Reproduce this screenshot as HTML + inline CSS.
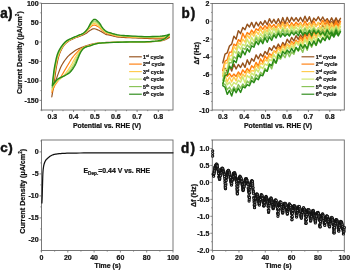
<!DOCTYPE html><html><head><meta charset="utf-8"><style>html,body{margin:0;padding:0;background:#fff;}svg{display:block;filter:blur(0.3px);} svg text{stroke:#111;stroke-width:0.22px;} svg text.pl{stroke-width:0.45px;}</style></head><body><svg width="350" height="270" viewBox="0 0 350 270" font-family='"Liberation Sans", sans-serif' fill="#111">
<rect width="350" height="270" fill="#fff"/>
<rect x="41.5" y="3.5" width="131.5" height="106.5" fill="none" stroke="#6a6a6a" stroke-width="0.9"/>
<line x1="52.40" y1="110.0" x2="52.40" y2="112.0" stroke="#6a6a6a" stroke-width="0.8"/>
<line x1="73.58" y1="110.0" x2="73.58" y2="112.0" stroke="#6a6a6a" stroke-width="0.8"/>
<line x1="94.76" y1="110.0" x2="94.76" y2="112.0" stroke="#6a6a6a" stroke-width="0.8"/>
<line x1="115.94" y1="110.0" x2="115.94" y2="112.0" stroke="#6a6a6a" stroke-width="0.8"/>
<line x1="137.12" y1="110.0" x2="137.12" y2="112.0" stroke="#6a6a6a" stroke-width="0.8"/>
<line x1="158.30" y1="110.0" x2="158.30" y2="112.0" stroke="#6a6a6a" stroke-width="0.8"/>
<line x1="41.81" y1="110.0" x2="41.81" y2="111.2" stroke="#6a6a6a" stroke-width="0.7"/>
<line x1="62.99" y1="110.0" x2="62.99" y2="111.2" stroke="#6a6a6a" stroke-width="0.7"/>
<line x1="84.17" y1="110.0" x2="84.17" y2="111.2" stroke="#6a6a6a" stroke-width="0.7"/>
<line x1="105.35" y1="110.0" x2="105.35" y2="111.2" stroke="#6a6a6a" stroke-width="0.7"/>
<line x1="126.53" y1="110.0" x2="126.53" y2="111.2" stroke="#6a6a6a" stroke-width="0.7"/>
<line x1="147.71" y1="110.0" x2="147.71" y2="111.2" stroke="#6a6a6a" stroke-width="0.7"/>
<line x1="168.89" y1="110.0" x2="168.89" y2="111.2" stroke="#6a6a6a" stroke-width="0.7"/>
<line x1="41.5" y1="3.10" x2="39.5" y2="3.10" stroke="#6a6a6a" stroke-width="0.8"/>
<line x1="41.5" y1="22.55" x2="39.5" y2="22.55" stroke="#6a6a6a" stroke-width="0.8"/>
<line x1="41.5" y1="42.00" x2="39.5" y2="42.00" stroke="#6a6a6a" stroke-width="0.8"/>
<line x1="41.5" y1="61.45" x2="39.5" y2="61.45" stroke="#6a6a6a" stroke-width="0.8"/>
<line x1="41.5" y1="80.90" x2="39.5" y2="80.90" stroke="#6a6a6a" stroke-width="0.8"/>
<line x1="41.5" y1="100.35" x2="39.5" y2="100.35" stroke="#6a6a6a" stroke-width="0.8"/>
<line x1="41.5" y1="12.82" x2="40.3" y2="12.82" stroke="#6a6a6a" stroke-width="0.7"/>
<line x1="41.5" y1="32.27" x2="40.3" y2="32.27" stroke="#6a6a6a" stroke-width="0.7"/>
<line x1="41.5" y1="51.73" x2="40.3" y2="51.73" stroke="#6a6a6a" stroke-width="0.7"/>
<line x1="41.5" y1="71.17" x2="40.3" y2="71.17" stroke="#6a6a6a" stroke-width="0.7"/>
<line x1="41.5" y1="90.62" x2="40.3" y2="90.62" stroke="#6a6a6a" stroke-width="0.7"/>
<line x1="41.5" y1="110.08" x2="40.3" y2="110.08" stroke="#6a6a6a" stroke-width="0.7"/>
<text x="52.4" y="118.8" font-size="7.0" text-anchor="middle" font-weight="bold" >0.3</text>
<text x="73.6" y="118.8" font-size="7.0" text-anchor="middle" font-weight="bold" >0.4</text>
<text x="94.8" y="118.8" font-size="7.0" text-anchor="middle" font-weight="bold" >0.5</text>
<text x="115.9" y="118.8" font-size="7.0" text-anchor="middle" font-weight="bold" >0.6</text>
<text x="137.1" y="118.8" font-size="7.0" text-anchor="middle" font-weight="bold" >0.7</text>
<text x="158.3" y="118.8" font-size="7.0" text-anchor="middle" font-weight="bold" >0.8</text>
<text x="38.6" y="5.6" font-size="7.0" text-anchor="end" font-weight="bold" >100</text>
<text x="38.6" y="25.1" font-size="7.0" text-anchor="end" font-weight="bold" >50</text>
<text x="38.6" y="44.5" font-size="7.0" text-anchor="end" font-weight="bold" >0</text>
<text x="38.6" y="64.0" font-size="7.0" text-anchor="end" font-weight="bold" >-50</text>
<text x="38.6" y="83.4" font-size="7.0" text-anchor="end" font-weight="bold" >-100</text>
<text x="38.6" y="102.8" font-size="7.0" text-anchor="end" font-weight="bold" >-150</text>
<text x="107" y="127.6" font-size="6.9" text-anchor="middle" font-weight="bold" >Potential vs. RHE (V)</text>
<text transform="translate(21.7,52.7) rotate(-90)" font-size="7.0" text-anchor="middle" font-weight="bold">Current Density (&#181;A/cm<tspan font-size="4.6" dy="-2.6">2</tspan><tspan dy="2.6">)</tspan></text>
<text class="pl" transform="translate(0.3,17.6) scale(1,1.03)" font-size="13.5" font-weight="bold">a<tspan dx="0.3">)</tspan></text>
<path d="M51.80,96.90 L51.96,95.94 L52.19,94.63 L52.46,93.08 L52.74,91.38 L53.03,89.65 L53.30,88.00 L53.55,86.42 L53.79,84.82 L54.03,83.19 L54.28,81.52 L54.53,79.80 L54.80,78.00 L55.07,76.10 L55.35,74.11 L55.63,72.06 L55.93,70.00 L56.25,67.97 L56.60,66.00 L56.97,64.08 L57.36,62.17 L57.76,60.28 L58.20,58.44 L58.68,56.68 L59.20,55.00 L59.77,53.40 L60.38,51.86 L61.03,50.39 L61.72,49.00 L62.44,47.70 L63.20,46.50 L63.99,45.41 L64.83,44.42 L65.69,43.52 L66.60,42.69 L67.53,41.92 L68.50,41.20 L69.52,40.53 L70.60,39.94 L71.71,39.41 L72.83,38.91 L73.93,38.45 L75.00,38.00 L76.04,37.58 L77.07,37.20 L78.09,36.85 L79.09,36.51 L80.06,36.17 L81.00,35.80 L81.91,35.41 L82.80,35.02 L83.66,34.62 L84.48,34.22 L85.27,33.81 L86.00,33.40 L86.66,32.97 L87.25,32.53 L87.79,32.08 L88.33,31.64 L88.89,31.21 L89.50,30.80 L90.16,30.38 L90.85,29.93 L91.56,29.49 L92.29,29.11 L93.04,28.83 L93.80,28.70 L94.60,28.75 L95.44,28.95 L96.30,29.25 L97.15,29.61 L97.96,29.97 L98.70,30.30 L99.36,30.60 L99.96,30.90 L100.52,31.21 L101.06,31.53 L101.62,31.86 L102.20,32.20 L102.82,32.57 L103.45,32.97 L104.09,33.38 L104.74,33.77 L105.37,34.12 L106.00,34.40 L106.55,34.59 L107.02,34.70 L107.48,34.76 L108.01,34.83 L108.70,34.93 L109.60,35.10 L110.75,35.37 L112.08,35.72 L113.56,36.10 L115.14,36.48 L116.80,36.83 L118.50,37.10 L120.20,37.29 L121.93,37.43 L123.73,37.53 L125.65,37.61 L127.72,37.70 L130.00,37.80 L132.56,37.92 L135.40,38.04 L138.39,38.17 L141.43,38.29 L144.41,38.40 L147.20,38.50 L149.89,38.60 L152.59,38.72 L155.21,38.83 L157.70,38.91 L159.99,38.94 L162.00,38.90 L163.75,38.75 L165.29,38.51 L166.62,38.22 L167.76,37.93 L168.68,37.67 L169.40,37.50 L168.68,37.87 L167.76,38.40 L166.62,39.02 L165.29,39.66 L163.75,40.25 L162.00,40.70 L159.99,41.02 L157.70,41.27 L155.21,41.46 L152.59,41.62 L149.89,41.76 L147.20,41.90 L144.54,42.04 L141.87,42.17 L139.13,42.28 L136.27,42.37 L133.25,42.45 L130.00,42.50 L126.31,42.51 L122.19,42.49 L117.89,42.44 L113.69,42.39 L109.87,42.37 L106.70,42.40 L104.25,42.47 L102.33,42.58 L100.78,42.71 L99.45,42.86 L98.21,43.02 L96.90,43.20 L95.58,43.39 L94.39,43.59 L93.28,43.80 L92.20,44.04 L91.12,44.30 L90.00,44.60 L88.83,44.94 L87.66,45.31 L86.47,45.71 L85.30,46.13 L84.14,46.57 L83.00,47.00 L81.90,47.41 L80.84,47.79 L79.79,48.19 L78.74,48.63 L77.65,49.16 L76.50,49.80 L75.26,50.58 L73.94,51.47 L72.59,52.44 L71.25,53.47 L69.97,54.53 L68.80,55.60 L67.73,56.70 L66.73,57.85 L65.79,59.03 L64.90,60.23 L64.08,61.43 L63.30,62.60 L62.61,63.70 L62.01,64.74 L61.46,65.77 L60.94,66.86 L60.39,68.08 L59.80,69.50 L59.14,71.18 L58.43,73.09 L57.70,75.12 L56.99,77.18 L56.31,79.17 L55.70,81.00 L55.15,82.67 L54.64,84.26 L54.17,85.79 L53.74,87.25 L53.35,88.65 L53.00,90.00 L52.70,91.35 L52.44,92.71 L52.23,94.01 L52.06,95.19 L51.91,96.17 L51.80,96.90" fill="none" stroke="#96521C" stroke-width="1.15" stroke-linejoin="round" stroke-linecap="round" />
<path d="M51.99,92.53 L52.14,91.44 L52.35,89.93 L52.59,88.15 L52.86,86.23 L53.12,84.31 L53.38,82.54 L53.62,80.91 L53.85,79.31 L54.09,77.72 L54.33,76.11 L54.60,74.45 L54.88,72.73 L55.17,70.92 L55.48,69.02 L55.80,67.07 L56.14,65.13 L56.51,63.24 L56.91,61.44 L57.34,59.71 L57.80,58.03 L58.28,56.39 L58.80,54.81 L59.35,53.29 L59.94,51.84 L60.58,50.45 L61.26,49.11 L61.97,47.83 L62.72,46.63 L63.49,45.50 L64.29,44.47 L65.12,43.55 L65.97,42.73 L66.85,42.00 L67.76,41.32 L68.70,40.69 L69.67,40.07 L70.68,39.48 L71.75,38.94 L72.84,38.45 L73.94,37.97 L75.03,37.52 L76.09,37.06 L77.14,36.63 L78.20,36.23 L79.24,35.85 L80.26,35.46 L81.24,35.05 L82.17,34.59 L83.04,34.09 L83.87,33.56 L84.66,33.01 L85.42,32.44 L86.13,31.85 L86.82,31.25 L87.45,30.63 L88.02,29.96 L88.56,29.27 L89.08,28.60 L89.62,27.97 L90.20,27.41 L90.82,26.87 L91.44,26.34 L92.08,25.85 L92.74,25.44 L93.41,25.16 L94.11,25.03 L94.85,25.11 L95.62,25.34 L96.42,25.71 L97.21,26.15 L97.98,26.63 L98.70,27.10 L99.37,27.60 L100.00,28.17 L100.61,28.78 L101.20,29.39 L101.79,29.99 L102.40,30.52 L103.00,31.02 L103.60,31.51 L104.20,31.97 L104.80,32.40 L105.40,32.78 L106.00,33.11 L106.54,33.36 L107.00,33.53 L107.47,33.65 L108.01,33.76 L108.69,33.91 L109.60,34.12 L110.75,34.43 L112.08,34.80 L113.56,35.20 L115.14,35.59 L116.80,35.95 L118.50,36.24 L120.20,36.45 L121.93,36.61 L123.73,36.74 L125.65,36.84 L127.72,36.94 L130.00,37.06 L132.56,37.19 L135.40,37.33 L138.39,37.46 L141.43,37.58 L144.41,37.68 L147.20,37.76 L149.89,37.82 L152.59,37.87 L155.21,37.90 L157.70,37.90 L159.99,37.86 L162.00,37.77 L163.75,37.59 L165.29,37.32 L166.62,37.01 L167.76,36.70 L168.68,36.43 L169.40,36.25 L168.68,36.56 L167.76,37.29 L166.62,38.13 L165.29,39.00 L163.75,39.78 L162.00,40.39 L159.99,40.80 L157.70,41.11 L155.21,41.34 L152.59,41.52 L149.89,41.66 L147.20,41.81 L144.54,41.94 L141.87,42.03 L139.13,42.09 L136.27,42.14 L133.25,42.18 L130.00,42.23 L126.31,42.28 L122.19,42.32 L117.89,42.36 L113.69,42.40 L109.87,42.45 L106.70,42.54 L104.25,42.63 L102.33,42.74 L100.78,42.86 L99.46,43.01 L98.21,43.18 L96.90,43.38 L95.56,43.62 L94.34,43.90 L93.19,44.20 L92.09,44.52 L91.00,44.85 L89.91,45.19 L88.80,45.51 L87.71,45.83 L86.64,46.16 L85.59,46.52 L84.57,46.91 L83.59,47.36 L82.65,47.85 L81.77,48.36 L80.91,48.92 L80.07,49.53 L79.22,50.21 L78.34,50.97 L77.43,51.84 L76.49,52.80 L75.54,53.83 L74.60,54.91 L73.70,56.00 L72.85,57.09 L72.06,58.18 L71.32,59.30 L70.61,60.43 L69.93,61.58 L69.25,62.73 L68.56,63.86 L67.89,64.97 L67.24,66.06 L66.60,67.14 L65.95,68.25 L65.28,69.39 L64.57,70.58 L63.82,71.85 L63.04,73.20 L62.23,74.58 L61.42,75.96 L60.60,77.30 L59.80,78.57 L58.97,79.75 L58.12,80.87 L57.27,81.96 L56.45,83.03 L55.68,84.09 L54.98,85.19 L54.35,86.37 L53.75,87.65 L53.20,88.94 L52.72,90.13 L52.32,91.13 L52.03,91.86" fill="none" stroke="#FF7F0E" stroke-width="1.15" stroke-linejoin="round" stroke-linecap="round" />
<path d="M52.08,90.63 L52.22,89.48 L52.42,87.89 L52.65,86.00 L52.91,83.98 L53.16,81.98 L53.41,80.16 L53.64,78.51 L53.88,76.91 L54.11,75.33 L54.36,73.75 L54.62,72.12 L54.91,70.44 L55.22,68.66 L55.54,66.80 L55.87,64.90 L56.23,63.01 L56.62,61.18 L57.05,59.45 L57.51,57.81 L57.99,56.23 L58.51,54.70 L59.06,53.23 L59.64,51.82 L60.26,50.46 L60.93,49.16 L61.64,47.91 L62.38,46.72 L63.15,45.59 L63.95,44.54 L64.77,43.59 L65.61,42.74 L66.47,42.00 L67.36,41.33 L68.27,40.73 L69.21,40.15 L70.18,39.58 L71.19,39.02 L72.25,38.51 L73.33,38.03 L74.42,37.56 L75.51,37.11 L76.57,36.66 L77.62,36.22 L78.69,35.81 L79.74,35.41 L80.77,35.00 L81.76,34.56 L82.68,34.06 L83.54,33.51 L84.34,32.93 L85.10,32.30 L85.82,31.66 L86.51,30.99 L87.18,30.32 L87.79,29.60 L88.36,28.83 L88.89,28.05 L89.41,27.28 L89.94,26.56 L90.51,25.93 L91.10,25.35 L91.70,24.78 L92.31,24.27 L92.93,23.84 L93.58,23.55 L94.25,23.44 L94.96,23.52 L95.70,23.77 L96.47,24.16 L97.24,24.64 L97.99,25.17 L98.70,25.71 L99.37,26.30 L100.02,26.98 L100.65,27.72 L101.26,28.46 L101.87,29.17 L102.48,29.79 L103.08,30.35 L103.67,30.87 L104.25,31.36 L104.83,31.80 L105.41,32.20 L106.00,32.55 L106.53,32.82 L107.00,33.02 L107.46,33.16 L108.00,33.30 L108.69,33.47 L109.60,33.70 L110.75,34.02 L112.08,34.40 L113.56,34.80 L115.14,35.20 L116.80,35.57 L118.50,35.87 L120.20,36.09 L121.93,36.26 L123.73,36.39 L125.65,36.51 L127.72,36.62 L130.00,36.74 L132.56,36.87 L135.40,37.01 L138.39,37.15 L141.43,37.27 L144.41,37.37 L147.20,37.44 L149.89,37.48 L152.59,37.50 L155.21,37.50 L157.70,37.47 L159.99,37.39 L162.00,37.28 L163.75,37.08 L165.29,36.80 L166.62,36.48 L167.76,36.17 L168.68,35.89 L169.40,35.71 L168.68,35.84 L167.76,36.67 L166.62,37.64 L165.29,38.63 L163.75,39.52 L162.00,40.21 L159.99,40.68 L157.70,41.02 L155.21,41.27 L152.59,41.46 L149.89,41.61 L147.20,41.76 L144.54,41.88 L141.87,41.95 L139.13,41.98 L136.27,42.00 L133.25,42.03 L130.00,42.08 L126.31,42.15 L122.19,42.23 L117.89,42.31 L113.69,42.40 L109.87,42.50 L106.70,42.61 L104.25,42.72 L102.33,42.83 L100.78,42.95 L99.46,43.09 L98.22,43.26 L96.90,43.48 L95.55,43.75 L94.31,44.07 L93.14,44.42 L92.02,44.79 L90.94,45.16 L89.86,45.51 L88.79,45.83 L87.74,46.12 L86.73,46.41 L85.75,46.73 L84.81,47.10 L83.91,47.56 L83.07,48.09 L82.28,48.68 L81.53,49.33 L80.81,50.03 L80.09,50.79 L79.37,51.62 L78.64,52.54 L77.90,53.54 L77.18,54.60 L76.46,55.70 L75.77,56.82 L75.10,57.91 L74.47,59.00 L73.87,60.10 L73.29,61.21 L72.72,62.33 L72.12,63.45 L71.49,64.56 L70.83,65.67 L70.15,66.79 L69.45,67.91 L68.73,69.02 L67.99,70.11 L67.22,71.18 L66.42,72.23 L65.60,73.26 L64.75,74.28 L63.88,75.28 L62.99,76.26 L62.07,77.22 L61.10,78.13 L60.06,78.99 L59.00,79.83 L57.96,80.68 L56.97,81.56 L56.08,82.51 L55.26,83.60 L54.47,84.84 L53.74,86.12 L53.09,87.32 L52.55,88.33 L52.15,89.06" fill="none" stroke="#FFCC50" stroke-width="1.15" stroke-linejoin="round" stroke-linecap="round" />
<path d="M52.15,89.06 L52.29,87.86 L52.48,86.20 L52.70,84.23 L52.95,82.13 L53.20,80.07 L53.44,78.20 L53.67,76.53 L53.90,74.93 L54.13,73.37 L54.38,71.80 L54.65,70.21 L54.94,68.55 L55.26,66.80 L55.58,64.97 L55.93,63.11 L56.31,61.26 L56.72,59.48 L57.16,57.81 L57.64,56.24 L58.15,54.74 L58.69,53.30 L59.27,51.92 L59.88,50.60 L60.53,49.33 L61.22,48.10 L61.95,46.92 L62.72,45.80 L63.51,44.74 L64.33,43.75 L65.16,42.86 L66.01,42.07 L66.88,41.39 L67.77,40.79 L68.69,40.23 L69.63,39.70 L70.60,39.17 L71.61,38.64 L72.66,38.15 L73.74,37.68 L74.82,37.23 L75.90,36.78 L76.96,36.32 L78.02,35.88 L79.09,35.46 L80.15,35.05 L81.19,34.62 L82.18,34.16 L83.10,33.63 L83.94,33.04 L84.73,32.40 L85.46,31.72 L86.16,31.02 L86.82,30.29 L87.47,29.55 L88.08,28.76 L88.64,27.91 L89.16,27.04 L89.68,26.18 L90.21,25.40 L90.76,24.71 L91.33,24.09 L91.91,23.49 L92.49,22.96 L93.09,22.53 L93.71,22.23 L94.36,22.12 L95.05,22.21 L95.77,22.48 L96.51,22.89 L97.26,23.40 L98.00,23.97 L98.70,24.56 L99.37,25.22 L100.03,26.01 L100.68,26.85 L101.31,27.69 L101.94,28.49 L102.55,29.19 L103.15,29.79 L103.72,30.35 L104.29,30.85 L104.85,31.31 L105.42,31.72 L106.00,32.09 L106.53,32.38 L106.99,32.60 L107.46,32.76 L108.00,32.92 L108.69,33.10 L109.60,33.35 L110.75,33.68 L112.08,34.06 L113.56,34.48 L115.14,34.88 L116.80,35.26 L118.50,35.56 L120.20,35.79 L121.93,35.97 L123.73,36.11 L125.65,36.23 L127.72,36.35 L130.00,36.47 L132.56,36.61 L135.40,36.76 L138.39,36.90 L141.43,37.02 L144.41,37.11 L147.20,37.17 L149.89,37.19 L152.59,37.19 L155.21,37.16 L157.70,37.10 L159.99,37.01 L162.00,36.87 L163.75,36.66 L165.29,36.37 L166.62,36.05 L167.76,35.73 L168.68,35.45 L169.40,35.26 L168.68,35.49 L167.76,36.37 L166.62,37.40 L165.29,38.45 L163.75,39.40 L162.00,40.13 L159.99,40.62 L157.70,40.98 L155.21,41.24 L152.59,41.43 L149.89,41.59 L147.20,41.74 L144.54,41.85 L141.87,41.91 L139.13,41.93 L136.27,41.94 L133.25,41.96 L130.00,42.01 L126.31,42.09 L122.19,42.18 L117.89,42.29 L113.69,42.40 L109.87,42.52 L106.70,42.65 L104.25,42.76 L102.33,42.88 L100.79,42.99 L99.46,43.13 L98.22,43.31 L96.90,43.53 L95.55,43.81 L94.29,44.15 L93.12,44.53 L91.99,44.92 L90.91,45.30 L89.84,45.67 L88.78,45.98 L87.76,46.26 L86.77,46.53 L85.83,46.83 L84.92,47.19 L84.07,47.66 L83.27,48.21 L82.53,48.83 L81.83,49.52 L81.17,50.27 L80.51,51.07 L79.86,51.93 L79.21,52.87 L78.58,53.89 L77.96,54.97 L77.36,56.09 L76.76,57.21 L76.18,58.31 L75.62,59.39 L75.10,60.49 L74.58,61.59 L74.06,62.69 L73.50,63.80 L72.89,64.90 L72.24,66.01 L71.54,67.14 L70.82,68.27 L70.07,69.39 L69.29,70.46 L68.49,71.47 L67.67,72.41 L66.83,73.29 L65.96,74.14 L65.06,74.96 L64.13,75.76 L63.16,76.57 L62.12,77.35 L60.99,78.09 L59.83,78.81 L58.68,79.56 L57.59,80.35 L56.61,81.23 L55.70,82.28 L54.82,83.49 L54.00,84.76 L53.27,85.97 L52.66,86.99 L52.21,87.72" fill="none" stroke="#CFE872" stroke-width="1.15" stroke-linejoin="round" stroke-linecap="round" />
<path d="M52.22,87.60 L52.35,86.36 L52.53,84.63 L52.75,82.59 L52.98,80.42 L53.23,78.29 L53.47,76.38 L53.69,74.70 L53.92,73.10 L54.15,71.54 L54.40,70.00 L54.67,68.43 L54.97,66.80 L55.29,65.07 L55.63,63.27 L55.99,61.44 L56.38,59.64 L56.80,57.91 L57.26,56.29 L57.76,54.79 L58.30,53.36 L58.87,52.01 L59.47,50.71 L60.11,49.47 L60.78,48.28 L61.49,47.12 L62.24,46.00 L63.03,44.94 L63.84,43.94 L64.68,43.02 L65.52,42.18 L66.38,41.46 L67.26,40.83 L68.16,40.28 L69.08,39.78 L70.02,39.29 L70.99,38.79 L72.00,38.29 L73.04,37.82 L74.11,37.36 L75.19,36.91 L76.27,36.46 L77.32,36.01 L78.38,35.56 L79.46,35.14 L80.54,34.72 L81.58,34.27 L82.57,33.78 L83.49,33.23 L84.32,32.60 L85.09,31.91 L85.80,31.19 L86.47,30.42 L87.11,29.64 L87.74,28.83 L88.34,27.98 L88.89,27.05 L89.42,26.10 L89.93,25.17 L90.45,24.32 L90.99,23.58 L91.55,22.92 L92.11,22.30 L92.67,21.75 L93.24,21.31 L93.84,21.01 L94.46,20.90 L95.13,21.00 L95.83,21.28 L96.55,21.71 L97.28,22.25 L98.00,22.85 L98.70,23.49 L99.38,24.23 L100.05,25.10 L100.71,26.04 L101.36,26.98 L102.00,27.87 L102.62,28.63 L103.21,29.28 L103.77,29.86 L104.33,30.38 L104.88,30.85 L105.43,31.28 L106.00,31.66 L106.53,31.97 L106.99,32.21 L107.46,32.39 L108.00,32.57 L108.69,32.77 L109.60,33.02 L110.75,33.36 L112.08,33.76 L113.56,34.18 L115.14,34.59 L116.80,34.96 L118.50,35.27 L120.20,35.51 L121.93,35.70 L123.73,35.85 L125.65,35.97 L127.72,36.09 L130.00,36.22 L132.56,36.37 L135.40,36.52 L138.39,36.66 L141.43,36.78 L144.41,36.87 L147.20,36.92 L149.89,36.93 L152.59,36.91 L155.21,36.85 L157.70,36.77 L159.99,36.65 L162.00,36.49 L163.75,36.27 L165.29,35.97 L166.62,35.64 L167.76,35.32 L168.68,35.04 L169.40,34.84 L168.68,35.20 L167.76,36.12 L166.62,37.20 L165.29,38.30 L163.75,39.30 L162.00,40.06 L159.99,40.57 L157.70,40.95 L155.21,41.22 L152.59,41.41 L149.89,41.57 L147.20,41.72 L144.54,41.83 L141.87,41.88 L139.13,41.89 L136.27,41.89 L133.25,41.90 L130.00,41.95 L126.31,42.04 L122.19,42.15 L117.89,42.27 L113.69,42.40 L109.87,42.54 L106.70,42.68 L104.25,42.80 L102.33,42.91 L100.79,43.03 L99.47,43.17 L98.22,43.34 L96.90,43.57 L95.55,43.87 L94.28,44.22 L93.10,44.62 L91.97,45.03 L90.88,45.43 L89.82,45.80 L88.77,46.11 L87.77,46.37 L86.81,46.63 L85.89,46.91 L85.02,47.27 L84.20,47.74 L83.44,48.31 L82.74,48.96 L82.08,49.68 L81.46,50.47 L80.86,51.31 L80.27,52.19 L79.70,53.15 L79.15,54.19 L78.62,55.28 L78.10,56.41 L77.59,57.53 L77.08,58.64 L76.58,59.72 L76.12,60.81 L75.65,61.90 L75.17,62.99 L74.65,64.09 L74.06,65.18 L73.41,66.29 L72.71,67.44 L71.96,68.58 L71.18,69.69 L70.38,70.75 L69.55,71.71 L68.71,72.56 L67.85,73.32 L66.97,74.02 L66.05,74.69 L65.09,75.35 L64.07,76.03 L62.96,76.70 L61.76,77.34 L60.52,77.96 L59.28,78.62 L58.11,79.34 L57.05,80.16 L56.07,81.17 L55.11,82.37 L54.21,83.63 L53.42,84.84 L52.76,85.87 L52.26,86.60" fill="none" stroke="#8AC458" stroke-width="1.15" stroke-linejoin="round" stroke-linecap="round" />
<path d="M52.30,85.70 L52.43,84.40 L52.60,82.59 L52.81,80.44 L53.03,78.17 L53.27,75.96 L53.50,74.00 L53.72,72.30 L53.94,70.70 L54.17,69.16 L54.42,67.64 L54.69,66.10 L55.00,64.50 L55.33,62.81 L55.69,61.05 L56.06,59.27 L56.47,57.52 L56.91,55.85 L57.40,54.30 L57.93,52.88 L58.49,51.56 L59.09,50.31 L59.73,49.13 L60.40,48.00 L61.10,46.90 L61.84,45.83 L62.62,44.80 L63.44,43.82 L64.28,42.91 L65.13,42.06 L66.00,41.30 L66.87,40.65 L67.76,40.10 L68.66,39.62 L69.59,39.18 L70.53,38.75 L71.50,38.30 L72.50,37.83 L73.54,37.39 L74.61,36.94 L75.68,36.50 L76.75,36.06 L77.80,35.60 L78.86,35.15 L79.95,34.72 L81.04,34.28 L82.09,33.81 L83.09,33.30 L84.00,32.70 L84.82,32.02 L85.56,31.28 L86.24,30.48 L86.88,29.64 L87.49,28.78 L88.10,27.90 L88.68,26.96 L89.23,25.93 L89.75,24.88 L90.26,23.85 L90.77,22.90 L91.30,22.10 L91.83,21.39 L92.36,20.74 L92.89,20.16 L93.44,19.71 L94.00,19.41 L94.60,19.30 L95.24,19.41 L95.91,19.71 L96.61,20.16 L97.31,20.74 L98.01,21.39 L98.70,22.10 L99.38,22.92 L100.07,23.91 L100.75,24.98 L101.42,26.05 L102.08,27.05 L102.70,27.90 L103.29,28.60 L103.84,29.22 L104.38,29.77 L104.90,30.26 L105.44,30.70 L106.00,31.10 L106.52,31.44 L106.98,31.70 L107.45,31.91 L108.00,32.10 L108.69,32.32 L109.60,32.60 L110.75,32.95 L112.08,33.36 L113.56,33.78 L115.14,34.20 L116.80,34.58 L118.50,34.90 L120.20,35.15 L121.93,35.34 L123.73,35.50 L125.65,35.64 L127.72,35.77 L130.00,35.90 L132.56,36.05 L135.40,36.20 L138.39,36.35 L141.43,36.47 L144.41,36.56 L147.20,36.60 L149.89,36.59 L152.59,36.54 L155.21,36.45 L157.70,36.33 L159.99,36.18 L162.00,36.00 L163.75,35.76 L165.29,35.45 L166.62,35.11 L167.76,34.78 L168.68,34.50 L169.40,34.30 L168.68,34.97 L167.76,35.93 L166.62,37.04 L165.29,38.19 L163.75,39.22 L162.00,40.00 L159.99,40.53 L157.70,40.92 L155.21,41.19 L152.59,41.39 L149.89,41.55 L147.20,41.70 L144.54,41.81 L141.87,41.86 L139.13,41.86 L136.27,41.84 L133.25,41.85 L130.00,41.90 L126.31,42.00 L122.19,42.12 L117.89,42.26 L113.69,42.40 L109.87,42.55 L106.70,42.70 L104.25,42.83 L102.33,42.94 L100.79,43.06 L99.47,43.19 L98.22,43.37 L96.90,43.60 L95.54,43.91 L94.27,44.28 L93.08,44.69 L91.95,45.11 L90.86,45.52 L89.80,45.90 L88.77,46.21 L87.78,46.46 L86.84,46.71 L85.94,46.98 L85.09,47.33 L84.30,47.80 L83.57,48.39 L82.90,49.06 L82.28,49.81 L81.70,50.63 L81.14,51.49 L80.60,52.40 L80.08,53.37 L79.60,54.43 L79.14,55.53 L78.70,56.66 L78.26,57.79 L77.80,58.90 L77.35,59.98 L76.93,61.07 L76.51,62.15 L76.07,63.23 L75.57,64.32 L75.00,65.40 L74.35,66.52 L73.64,67.67 L72.88,68.83 L72.07,69.94 L71.25,70.98 L70.40,71.90 L69.55,72.68 L68.67,73.34 L67.78,73.92 L66.84,74.47 L65.85,75.02 L64.80,75.60 L63.64,76.19 L62.38,76.73 L61.07,77.28 L59.76,77.87 L58.52,78.53 L57.40,79.30 L56.36,80.28 L55.34,81.47 L54.39,82.73 L53.54,83.94 L52.83,84.97 L52.30,85.70" fill="none" stroke="#2A8A16" stroke-width="1.35" stroke-linejoin="round" stroke-linecap="round" />
<line x1="129.1" y1="56.8" x2="141.8" y2="56.8" stroke="#96521C" stroke-width="1.15"/>
<text x="143.1" y="58.70" font-size="5.3" font-weight="bold">1<tspan font-size="3.29" dy="-2">st</tspan><tspan dy="2"> cycle</tspan></text>
<line x1="129.1" y1="64.1" x2="141.8" y2="64.1" stroke="#FF7F0E" stroke-width="1.15"/>
<text x="143.1" y="66.00" font-size="5.3" font-weight="bold">2<tspan font-size="3.29" dy="-2">nd</tspan><tspan dy="2"> cycle</tspan></text>
<line x1="129.1" y1="71.6" x2="141.8" y2="71.6" stroke="#FFCC50" stroke-width="1.15"/>
<text x="143.1" y="73.50" font-size="5.3" font-weight="bold">3<tspan font-size="3.29" dy="-2">rd</tspan><tspan dy="2"> cycle</tspan></text>
<line x1="129.1" y1="79.1" x2="141.8" y2="79.1" stroke="#CFE872" stroke-width="1.15"/>
<text x="143.1" y="81.00" font-size="5.3" font-weight="bold">4<tspan font-size="3.29" dy="-2">th</tspan><tspan dy="2"> cycle</tspan></text>
<line x1="129.1" y1="86.6" x2="141.8" y2="86.6" stroke="#8AC458" stroke-width="1.15"/>
<text x="143.1" y="88.50" font-size="5.3" font-weight="bold">5<tspan font-size="3.29" dy="-2">th</tspan><tspan dy="2"> cycle</tspan></text>
<line x1="129.1" y1="94.2" x2="141.8" y2="94.2" stroke="#2A8A16" stroke-width="1.15"/>
<text x="143.1" y="96.10" font-size="5.3" font-weight="bold">6<tspan font-size="3.29" dy="-2">th</tspan><tspan dy="2"> cycle</tspan></text>
<rect x="212.2" y="3.5" width="132.10000000000002" height="106.5" fill="none" stroke="#6a6a6a" stroke-width="0.9"/>
<line x1="222.80" y1="110.0" x2="222.80" y2="112.0" stroke="#6a6a6a" stroke-width="0.8"/>
<line x1="244.20" y1="110.0" x2="244.20" y2="112.0" stroke="#6a6a6a" stroke-width="0.8"/>
<line x1="265.60" y1="110.0" x2="265.60" y2="112.0" stroke="#6a6a6a" stroke-width="0.8"/>
<line x1="287.00" y1="110.0" x2="287.00" y2="112.0" stroke="#6a6a6a" stroke-width="0.8"/>
<line x1="308.40" y1="110.0" x2="308.40" y2="112.0" stroke="#6a6a6a" stroke-width="0.8"/>
<line x1="329.80" y1="110.0" x2="329.80" y2="112.0" stroke="#6a6a6a" stroke-width="0.8"/>
<line x1="212.10" y1="110.0" x2="212.10" y2="111.2" stroke="#6a6a6a" stroke-width="0.7"/>
<line x1="233.50" y1="110.0" x2="233.50" y2="111.2" stroke="#6a6a6a" stroke-width="0.7"/>
<line x1="254.90" y1="110.0" x2="254.90" y2="111.2" stroke="#6a6a6a" stroke-width="0.7"/>
<line x1="276.30" y1="110.0" x2="276.30" y2="111.2" stroke="#6a6a6a" stroke-width="0.7"/>
<line x1="297.70" y1="110.0" x2="297.70" y2="111.2" stroke="#6a6a6a" stroke-width="0.7"/>
<line x1="319.10" y1="110.0" x2="319.10" y2="111.2" stroke="#6a6a6a" stroke-width="0.7"/>
<line x1="340.50" y1="110.0" x2="340.50" y2="111.2" stroke="#6a6a6a" stroke-width="0.7"/>
<line x1="212.2" y1="3.50" x2="210.2" y2="3.50" stroke="#6a6a6a" stroke-width="0.8"/>
<line x1="212.2" y1="21.30" x2="210.2" y2="21.30" stroke="#6a6a6a" stroke-width="0.8"/>
<line x1="212.2" y1="39.10" x2="210.2" y2="39.10" stroke="#6a6a6a" stroke-width="0.8"/>
<line x1="212.2" y1="56.90" x2="210.2" y2="56.90" stroke="#6a6a6a" stroke-width="0.8"/>
<line x1="212.2" y1="74.70" x2="210.2" y2="74.70" stroke="#6a6a6a" stroke-width="0.8"/>
<line x1="212.2" y1="92.50" x2="210.2" y2="92.50" stroke="#6a6a6a" stroke-width="0.8"/>
<line x1="212.2" y1="110.30" x2="210.2" y2="110.30" stroke="#6a6a6a" stroke-width="0.8"/>
<line x1="212.2" y1="12.40" x2="211.0" y2="12.40" stroke="#6a6a6a" stroke-width="0.7"/>
<line x1="212.2" y1="30.20" x2="211.0" y2="30.20" stroke="#6a6a6a" stroke-width="0.7"/>
<line x1="212.2" y1="48.00" x2="211.0" y2="48.00" stroke="#6a6a6a" stroke-width="0.7"/>
<line x1="212.2" y1="65.80" x2="211.0" y2="65.80" stroke="#6a6a6a" stroke-width="0.7"/>
<line x1="212.2" y1="83.60" x2="211.0" y2="83.60" stroke="#6a6a6a" stroke-width="0.7"/>
<line x1="212.2" y1="101.40" x2="211.0" y2="101.40" stroke="#6a6a6a" stroke-width="0.7"/>
<text x="222.8" y="118.8" font-size="7.0" text-anchor="middle" font-weight="bold" >0.3</text>
<text x="244.2" y="118.8" font-size="7.0" text-anchor="middle" font-weight="bold" >0.4</text>
<text x="265.6" y="118.8" font-size="7.0" text-anchor="middle" font-weight="bold" >0.5</text>
<text x="287.0" y="118.8" font-size="7.0" text-anchor="middle" font-weight="bold" >0.6</text>
<text x="308.4" y="118.8" font-size="7.0" text-anchor="middle" font-weight="bold" >0.7</text>
<text x="329.8" y="118.8" font-size="7.0" text-anchor="middle" font-weight="bold" >0.8</text>
<text x="209.3" y="6.0" font-size="7.0" text-anchor="end" font-weight="bold" >2</text>
<text x="209.3" y="23.8" font-size="7.0" text-anchor="end" font-weight="bold" >0</text>
<text x="209.3" y="41.6" font-size="7.0" text-anchor="end" font-weight="bold" >-2</text>
<text x="209.3" y="59.4" font-size="7.0" text-anchor="end" font-weight="bold" >-4</text>
<text x="209.3" y="77.2" font-size="7.0" text-anchor="end" font-weight="bold" >-6</text>
<text x="209.3" y="95.0" font-size="7.0" text-anchor="end" font-weight="bold" >-8</text>
<text x="209.3" y="112.8" font-size="7.0" text-anchor="end" font-weight="bold" >-10</text>
<text x="278" y="127.6" font-size="6.9" text-anchor="middle" font-weight="bold" >Potential vs. RHE (V)</text>
<text transform="translate(199.0,53.2) rotate(-90)" font-size="7.0" text-anchor="middle" font-weight="bold">&#916;<tspan font-style="italic">f</tspan> (Hz)</text>
<text class="pl" transform="translate(181.6,18.4) scale(1,1.03)" font-size="13.5" font-weight="bold">b<tspan dx="0.9">)</tspan></text>
<path d="M222.80,62.90 L225.02,54.14 L227.24,52.76 L229.46,45.98 L231.68,44.11 L233.90,36.15 L236.12,39.14 L238.35,30.62 L240.57,33.62 L242.79,27.47 L245.01,29.77 L247.23,24.15 L249.45,27.01 L251.67,22.40 L253.89,27.81 L256.11,22.18 L258.33,25.89 L260.55,21.74 L262.77,25.13 L264.99,20.59 L267.22,24.75 L269.44,18.67 L271.66,23.10 L273.88,19.37 L276.10,23.63 L278.32,18.77 L280.54,24.08 L282.76,17.62 L284.98,23.80 L287.20,17.32 L289.42,22.36 L291.64,17.34 L293.86,21.08 L296.08,17.64 L298.31,21.37 L300.53,17.48 L302.75,21.65 L304.97,16.17 L307.19,21.35 L309.41,16.76 L311.63,23.07 L313.85,18.10 L316.07,20.77 L318.29,16.79 L320.51,20.98 L322.73,16.98 L324.95,21.25 L327.18,18.67 L329.40,22.63 L331.62,17.87 L333.84,22.39 L336.06,17.83 L338.28,23.01 L340.50,18.30 L338.28,21.79 L336.06,18.43 L333.84,24.17 L331.62,21.79 L329.40,25.74 L327.18,22.71 L324.95,28.96 L322.73,24.99 L320.51,31.49 L318.29,28.10 L316.07,33.56 L313.85,29.84 L311.63,34.38 L309.41,31.20 L307.19,35.99 L304.97,33.27 L302.75,38.14 L300.53,35.03 L298.31,39.27 L296.08,35.74 L293.86,40.95 L291.64,37.48 L289.42,42.79 L287.20,39.24 L284.98,45.57 L282.76,42.53 L280.54,47.91 L278.32,44.07 L276.10,48.84 L273.88,45.80 L271.66,50.37 L269.44,47.76 L267.22,54.22 L264.99,51.49 L262.77,56.81 L260.55,53.86 L258.33,58.81 L256.11,54.91 L253.89,61.16 L251.67,58.63 L249.45,64.61 L247.23,59.87 L245.01,67.37 L242.79,63.02 L240.57,67.52 L238.35,64.55 L236.12,69.01 L233.90,64.11 L231.68,71.09 L229.46,65.71 L227.24,71.70 L225.02,68.30 L222.80,70.46" fill="none" stroke="#96521C" stroke-width="1.45" stroke-linejoin="round" stroke-linecap="round" />
<path d="M222.80,70.23 L225.02,61.23 L227.24,59.91 L229.46,52.16 L231.68,52.06 L233.90,44.13 L236.12,45.79 L238.35,39.63 L240.57,41.61 L242.79,33.30 L245.01,37.98 L247.23,32.57 L249.45,34.49 L251.67,30.07 L253.89,33.28 L256.11,28.81 L258.33,30.27 L260.55,26.15 L262.77,29.35 L264.99,25.64 L267.22,28.79 L269.44,23.86 L271.66,27.15 L273.88,24.52 L276.10,27.86 L278.32,23.73 L280.54,27.00 L282.76,22.05 L284.98,27.64 L287.20,22.49 L289.42,26.75 L291.64,22.64 L293.86,25.90 L296.08,22.19 L298.31,25.06 L300.53,22.47 L302.75,26.74 L304.97,21.12 L307.19,25.15 L309.41,22.73 L311.63,26.47 L313.85,21.05 L316.07,26.30 L318.29,22.56 L320.51,24.23 L322.73,20.47 L324.95,24.43 L327.18,20.46 L329.40,25.23 L331.62,23.02 L333.84,26.75 L336.06,20.91 L338.28,26.13 L340.50,21.30 L338.28,26.70 L336.06,23.45 L333.84,27.41 L331.62,25.65 L329.40,29.55 L327.18,28.01 L324.95,32.86 L322.73,29.36 L320.51,33.84 L318.29,31.95 L316.07,37.01 L313.85,31.81 L311.63,38.54 L309.41,34.13 L307.19,39.65 L304.97,34.91 L302.75,40.64 L300.53,37.05 L298.31,43.12 L296.08,40.08 L293.86,44.06 L291.64,41.38 L289.42,47.25 L287.20,43.70 L284.98,48.39 L282.76,44.56 L280.54,49.00 L278.32,47.15 L276.10,51.98 L273.88,50.95 L271.66,55.68 L269.44,53.40 L267.22,59.32 L264.99,55.80 L262.77,62.45 L260.55,58.77 L258.33,66.42 L256.11,62.39 L253.89,67.92 L251.67,65.71 L249.45,71.49 L247.23,68.38 L245.01,72.80 L242.79,69.90 L240.57,75.08 L238.35,71.97 L236.12,76.41 L233.90,74.13 L231.68,76.81 L229.46,73.53 L227.24,76.30 L225.02,73.18 L222.80,75.43" fill="none" stroke="#FF7F0E" stroke-width="1.45" stroke-linejoin="round" stroke-linecap="round" />
<path d="M222.80,73.93 L225.02,63.34 L227.24,62.97 L229.46,55.85 L231.68,55.61 L233.90,46.46 L236.12,49.71 L238.35,42.81 L240.57,44.73 L242.79,39.14 L245.01,42.17 L247.23,34.89 L249.45,38.27 L251.67,32.99 L253.89,36.22 L256.11,31.15 L258.33,34.31 L260.55,28.83 L262.77,33.57 L264.99,28.76 L267.22,31.81 L269.44,26.36 L271.66,29.66 L273.88,27.17 L276.10,30.42 L278.32,24.72 L280.54,28.73 L282.76,23.66 L284.98,28.71 L287.20,23.88 L289.42,28.17 L291.64,24.58 L293.86,28.49 L296.08,24.73 L298.31,26.83 L300.53,23.57 L302.75,26.90 L304.97,24.19 L307.19,28.78 L309.41,22.90 L311.63,27.05 L313.85,23.52 L316.07,26.73 L318.29,22.37 L320.51,28.91 L322.73,22.49 L324.95,28.04 L327.18,23.97 L329.40,28.07 L331.62,22.94 L333.84,28.45 L336.06,25.27 L338.28,28.37 L340.50,23.79 L338.28,28.08 L336.06,26.54 L333.84,30.84 L331.62,27.75 L329.40,32.88 L327.18,28.69 L324.95,33.09 L322.73,31.08 L320.51,36.64 L318.29,33.59 L316.07,37.78 L313.85,33.81 L311.63,40.73 L309.41,35.46 L307.19,42.39 L304.97,36.96 L302.75,43.39 L300.53,39.82 L298.31,43.17 L296.08,41.88 L293.86,46.57 L291.64,43.08 L289.42,47.24 L287.20,43.76 L284.98,49.42 L282.76,45.90 L280.54,51.50 L278.32,48.36 L276.10,53.29 L273.88,51.24 L271.66,57.71 L269.44,55.97 L267.22,61.01 L264.99,59.81 L262.77,64.38 L260.55,63.15 L258.33,68.24 L256.11,64.84 L253.89,71.17 L251.67,70.49 L249.45,73.29 L247.23,71.03 L245.01,76.77 L242.79,73.96 L240.57,78.94 L238.35,74.55 L236.12,80.79 L233.90,76.84 L231.68,82.06 L229.46,77.01 L227.24,82.03 L225.02,75.32 L222.80,76.71" fill="none" stroke="#FFCC50" stroke-width="1.45" stroke-linejoin="round" stroke-linecap="round" />
<path d="M222.80,76.23 L225.02,69.82 L227.24,68.61 L229.46,58.12 L231.68,61.12 L233.90,50.86 L236.12,53.33 L238.35,45.68 L240.57,49.17 L242.79,44.21 L245.01,45.92 L247.23,39.13 L249.45,44.15 L251.67,37.25 L253.89,41.71 L256.11,35.46 L258.33,39.27 L260.55,33.74 L262.77,37.52 L264.99,31.25 L267.22,34.69 L269.44,29.22 L271.66,34.08 L273.88,28.34 L276.10,32.82 L278.32,28.72 L280.54,33.29 L282.76,27.53 L284.98,31.55 L287.20,28.53 L289.42,32.20 L291.64,26.68 L293.86,30.59 L296.08,27.11 L298.31,30.50 L300.53,26.05 L302.75,30.83 L304.97,27.29 L307.19,30.79 L309.41,26.48 L311.63,30.15 L313.85,26.51 L316.07,30.75 L318.29,27.99 L320.51,30.35 L322.73,27.32 L324.95,30.40 L327.18,26.41 L329.40,31.72 L331.62,27.03 L333.84,30.17 L336.06,25.99 L338.28,31.17 L340.50,26.57 L338.28,31.59 L336.06,28.64 L333.84,32.46 L331.62,29.46 L329.40,35.58 L327.18,32.31 L324.95,37.77 L322.73,33.18 L320.51,37.47 L318.29,34.48 L316.07,41.62 L313.85,37.16 L311.63,41.88 L309.41,38.03 L307.19,44.51 L304.97,39.40 L302.75,46.66 L300.53,42.62 L298.31,45.35 L296.08,42.42 L293.86,48.33 L291.64,46.07 L289.42,49.15 L287.20,47.15 L284.98,52.05 L282.76,49.33 L280.54,53.22 L278.32,52.33 L276.10,58.39 L273.88,54.58 L271.66,60.66 L269.44,59.56 L267.22,65.42 L264.99,63.83 L262.77,68.68 L260.55,66.49 L258.33,72.08 L256.11,69.02 L253.89,75.28 L251.67,73.05 L249.45,77.79 L247.23,75.50 L245.01,82.88 L242.79,76.82 L240.57,82.33 L238.35,80.22 L236.12,84.24 L233.90,82.47 L231.68,86.25 L229.46,82.17 L227.24,84.78 L225.02,80.35 L222.80,82.72" fill="none" stroke="#CFE872" stroke-width="1.45" stroke-linejoin="round" stroke-linecap="round" />
<path d="M222.80,80.37 L225.02,72.47 L227.24,72.60 L229.46,62.84 L231.68,62.70 L233.90,56.69 L236.12,58.65 L238.35,51.64 L240.57,54.49 L242.79,48.12 L245.01,49.36 L247.23,44.98 L249.45,47.50 L251.67,42.22 L253.89,45.38 L256.11,37.82 L258.33,41.80 L260.55,37.65 L262.77,41.46 L264.99,34.25 L267.22,38.46 L269.44,33.04 L271.66,37.71 L273.88,33.11 L276.10,35.46 L278.32,30.95 L280.54,35.15 L282.76,29.47 L284.98,34.84 L287.20,30.44 L289.42,35.76 L291.64,30.13 L293.86,32.94 L296.08,30.72 L298.31,32.34 L300.53,29.49 L302.75,33.70 L304.97,28.45 L307.19,33.20 L309.41,29.84 L311.63,31.60 L313.85,28.45 L316.07,32.44 L318.29,29.90 L320.51,32.64 L322.73,30.14 L324.95,33.59 L327.18,29.16 L329.40,33.28 L331.62,30.05 L333.84,33.45 L336.06,28.04 L338.28,32.49 L340.50,29.93 L338.28,33.10 L336.06,31.07 L333.84,35.90 L331.62,32.99 L329.40,39.08 L327.18,33.22 L324.95,40.20 L322.73,37.29 L320.51,41.37 L318.29,40.05 L316.07,45.55 L313.85,42.06 L311.63,47.26 L309.41,43.29 L307.19,50.26 L304.97,44.92 L302.75,52.38 L300.53,47.94 L298.31,51.13 L296.08,47.75 L293.86,54.24 L291.64,52.02 L289.42,56.72 L287.20,51.89 L284.98,57.65 L282.76,54.35 L280.54,59.12 L278.32,57.64 L276.10,63.08 L273.88,61.67 L271.66,68.81 L269.44,64.47 L267.22,70.87 L264.99,68.37 L262.77,74.44 L260.55,72.22 L258.33,77.30 L256.11,74.43 L253.89,80.50 L251.67,76.46 L249.45,83.24 L247.23,81.11 L245.01,86.67 L242.79,83.98 L240.57,88.14 L238.35,84.53 L236.12,90.15 L233.90,86.86 L231.68,91.26 L229.46,87.11 L227.24,89.64 L225.02,84.22 L222.80,83.91" fill="none" stroke="#8AC458" stroke-width="1.45" stroke-linejoin="round" stroke-linecap="round" />
<path d="M222.80,84.01 L225.02,75.63 L227.24,74.69 L229.46,66.71 L231.68,68.25 L233.90,60.40 L236.12,62.61 L238.35,54.34 L240.57,57.57 L242.79,50.85 L245.01,54.81 L247.23,48.76 L249.45,52.07 L251.67,45.87 L253.89,47.25 L256.11,41.40 L258.33,44.67 L260.55,39.97 L262.77,43.63 L264.99,37.57 L267.22,42.29 L269.44,36.82 L271.66,40.48 L273.88,34.90 L276.10,38.02 L278.32,33.20 L280.54,37.10 L282.76,33.43 L284.98,36.25 L287.20,33.71 L289.42,35.97 L291.64,32.14 L293.86,34.87 L296.08,32.31 L298.31,35.66 L300.53,30.64 L302.75,35.25 L304.97,32.18 L307.19,34.48 L309.41,30.52 L311.63,36.07 L313.85,30.30 L316.07,33.82 L318.29,30.81 L320.51,34.84 L322.73,31.98 L324.95,35.68 L327.18,29.98 L329.40,34.20 L331.62,32.13 L333.84,35.45 L336.06,29.89 L338.28,35.01 L340.50,31.66 L338.28,35.91 L336.06,32.76 L333.84,37.14 L331.62,34.04 L329.40,39.58 L327.18,35.87 L324.95,40.63 L322.73,37.90 L320.51,42.87 L318.29,38.70 L316.07,45.18 L313.85,40.90 L311.63,45.73 L309.41,41.63 L307.19,48.61 L304.97,44.75 L302.75,48.19 L300.53,44.42 L298.31,50.52 L296.08,47.39 L293.86,52.17 L291.64,48.37 L289.42,52.88 L287.20,50.04 L284.98,53.98 L282.76,51.61 L280.54,57.47 L278.32,54.19 L276.10,63.11 L273.88,59.09 L271.66,65.62 L269.44,64.10 L267.22,71.31 L264.99,70.17 L262.77,75.79 L260.55,74.81 L258.33,79.78 L256.11,78.13 L253.89,82.66 L251.67,80.42 L249.45,85.83 L247.23,84.54 L245.01,87.98 L242.79,86.65 L240.57,92.41 L238.35,88.11 L236.12,92.76 L233.90,88.80 L231.68,95.92 L229.46,90.42 L227.24,94.36 L225.02,87.24 L222.80,85.56" fill="none" stroke="#2A8A16" stroke-width="1.45" stroke-linejoin="round" stroke-linecap="round" />
<line x1="301.5" y1="56.8" x2="314.3" y2="56.8" stroke="#96521C" stroke-width="1.15"/>
<text x="315.7" y="58.70" font-size="5.3" font-weight="bold">1<tspan font-size="3.29" dy="-2">st</tspan><tspan dy="2"> cycle</tspan></text>
<line x1="301.5" y1="64.1" x2="314.3" y2="64.1" stroke="#FF7F0E" stroke-width="1.15"/>
<text x="315.7" y="66.00" font-size="5.3" font-weight="bold">2<tspan font-size="3.29" dy="-2">nd</tspan><tspan dy="2"> cycle</tspan></text>
<line x1="301.5" y1="71.6" x2="314.3" y2="71.6" stroke="#FFCC50" stroke-width="1.15"/>
<text x="315.7" y="73.50" font-size="5.3" font-weight="bold">3<tspan font-size="3.29" dy="-2">rd</tspan><tspan dy="2"> cycle</tspan></text>
<line x1="301.5" y1="79.1" x2="314.3" y2="79.1" stroke="#CFE872" stroke-width="1.15"/>
<text x="315.7" y="81.00" font-size="5.3" font-weight="bold">4<tspan font-size="3.29" dy="-2">th</tspan><tspan dy="2"> cycle</tspan></text>
<line x1="301.5" y1="86.6" x2="314.3" y2="86.6" stroke="#8AC458" stroke-width="1.15"/>
<text x="315.7" y="88.50" font-size="5.3" font-weight="bold">5<tspan font-size="3.29" dy="-2">th</tspan><tspan dy="2"> cycle</tspan></text>
<line x1="301.5" y1="94.2" x2="314.3" y2="94.2" stroke="#2A8A16" stroke-width="1.15"/>
<text x="315.7" y="96.10" font-size="5.3" font-weight="bold">6<tspan font-size="3.29" dy="-2">th</tspan><tspan dy="2"> cycle</tspan></text>
<rect x="41.5" y="140.0" width="131.5" height="110.5" fill="none" stroke="#6a6a6a" stroke-width="0.9"/>
<line x1="41.50" y1="250.5" x2="41.50" y2="252.5" stroke="#6a6a6a" stroke-width="0.8"/>
<line x1="67.80" y1="250.5" x2="67.80" y2="252.5" stroke="#6a6a6a" stroke-width="0.8"/>
<line x1="94.10" y1="250.5" x2="94.10" y2="252.5" stroke="#6a6a6a" stroke-width="0.8"/>
<line x1="120.40" y1="250.5" x2="120.40" y2="252.5" stroke="#6a6a6a" stroke-width="0.8"/>
<line x1="146.70" y1="250.5" x2="146.70" y2="252.5" stroke="#6a6a6a" stroke-width="0.8"/>
<line x1="173.00" y1="250.5" x2="173.00" y2="252.5" stroke="#6a6a6a" stroke-width="0.8"/>
<line x1="54.65" y1="250.5" x2="54.65" y2="251.7" stroke="#6a6a6a" stroke-width="0.7"/>
<line x1="80.95" y1="250.5" x2="80.95" y2="251.7" stroke="#6a6a6a" stroke-width="0.7"/>
<line x1="107.25" y1="250.5" x2="107.25" y2="251.7" stroke="#6a6a6a" stroke-width="0.7"/>
<line x1="133.55" y1="250.5" x2="133.55" y2="251.7" stroke="#6a6a6a" stroke-width="0.7"/>
<line x1="159.85" y1="250.5" x2="159.85" y2="251.7" stroke="#6a6a6a" stroke-width="0.7"/>
<line x1="41.5" y1="151.90" x2="39.5" y2="151.90" stroke="#6a6a6a" stroke-width="0.8"/>
<line x1="41.5" y1="173.90" x2="39.5" y2="173.90" stroke="#6a6a6a" stroke-width="0.8"/>
<line x1="41.5" y1="195.90" x2="39.5" y2="195.90" stroke="#6a6a6a" stroke-width="0.8"/>
<line x1="41.5" y1="217.90" x2="39.5" y2="217.90" stroke="#6a6a6a" stroke-width="0.8"/>
<line x1="41.5" y1="239.90" x2="39.5" y2="239.90" stroke="#6a6a6a" stroke-width="0.8"/>
<line x1="41.5" y1="140.90" x2="40.3" y2="140.90" stroke="#6a6a6a" stroke-width="0.7"/>
<line x1="41.5" y1="162.90" x2="40.3" y2="162.90" stroke="#6a6a6a" stroke-width="0.7"/>
<line x1="41.5" y1="184.90" x2="40.3" y2="184.90" stroke="#6a6a6a" stroke-width="0.7"/>
<line x1="41.5" y1="206.90" x2="40.3" y2="206.90" stroke="#6a6a6a" stroke-width="0.7"/>
<line x1="41.5" y1="228.90" x2="40.3" y2="228.90" stroke="#6a6a6a" stroke-width="0.7"/>
<line x1="41.5" y1="250.90" x2="40.3" y2="250.90" stroke="#6a6a6a" stroke-width="0.7"/>
<text x="41.5" y="259.8" font-size="7.0" text-anchor="middle" font-weight="bold" >0</text>
<text x="67.8" y="259.8" font-size="7.0" text-anchor="middle" font-weight="bold" >20</text>
<text x="94.1" y="259.8" font-size="7.0" text-anchor="middle" font-weight="bold" >40</text>
<text x="120.4" y="259.8" font-size="7.0" text-anchor="middle" font-weight="bold" >60</text>
<text x="146.7" y="259.8" font-size="7.0" text-anchor="middle" font-weight="bold" >80</text>
<text x="173.0" y="259.8" font-size="7.0" text-anchor="middle" font-weight="bold" >100</text>
<text x="38.6" y="154.4" font-size="7.0" text-anchor="end" font-weight="bold" >0</text>
<text x="38.6" y="176.4" font-size="7.0" text-anchor="end" font-weight="bold" >-5</text>
<text x="38.6" y="198.4" font-size="7.0" text-anchor="end" font-weight="bold" >-10</text>
<text x="38.6" y="220.4" font-size="7.0" text-anchor="end" font-weight="bold" >-15</text>
<text x="38.6" y="242.4" font-size="7.0" text-anchor="end" font-weight="bold" >-20</text>
<text x="107.7" y="268.0" font-size="6.9" text-anchor="middle" font-weight="bold" >Time (s)</text>
<text transform="translate(25.0,191.3) rotate(-90)" font-size="7.2" text-anchor="middle" font-weight="bold">Current Density (&#181;A/cm<tspan font-size="4.6" dy="-2.6">2</tspan><tspan dy="2.6">)</tspan></text>
<text class="pl" transform="translate(0.3,152.2)" font-size="13.5" font-weight="bold">c<tspan dx="0.4">)</tspan></text>
<path d="M41.90,203.00 L41.93,202.28 L41.98,201.33 L42.03,200.19 L42.09,198.89 L42.15,197.48 L42.20,196.00 L42.25,194.41 L42.30,192.67 L42.34,190.81 L42.39,188.89 L42.44,186.94 L42.50,185.00 L42.56,182.99 L42.62,180.85 L42.68,178.69 L42.75,176.59 L42.82,174.66 L42.90,173.00 L42.99,171.62 L43.08,170.46 L43.17,169.47 L43.28,168.59 L43.39,167.79 L43.50,167.00 L43.61,166.27 L43.73,165.64 L43.84,165.08 L43.97,164.56 L44.12,164.04 L44.30,163.50 L44.50,162.93 L44.72,162.34 L44.96,161.77 L45.22,161.21 L45.50,160.68 L45.80,160.20 L46.12,159.77 L46.47,159.38 L46.84,159.02 L47.22,158.68 L47.61,158.34 L48.00,158.00 L48.39,157.65 L48.79,157.30 L49.20,156.95 L49.62,156.61 L50.05,156.30 L50.50,156.00 L50.95,155.72 L51.41,155.47 L51.88,155.22 L52.37,155.00 L52.91,154.79 L53.50,154.60 L54.13,154.43 L54.80,154.28 L55.50,154.14 L56.26,154.02 L57.09,153.91 L58.00,153.80 L58.93,153.70 L59.85,153.60 L60.84,153.52 L61.98,153.44 L63.34,153.37 L65.00,153.30 L66.86,153.24 L68.85,153.18 L71.06,153.13 L73.59,153.08 L76.54,153.04 L80.00,153.00 L83.75,152.97 L87.67,152.95 L92.00,152.94 L97.00,152.93 L102.92,152.91 L110.00,152.90 L119.32,152.88 L130.89,152.86 L143.38,152.84 L155.44,152.83 L165.76,152.81 L173.00,152.80" fill="none" stroke="#111" stroke-width="1.25" stroke-linejoin="round" stroke-linecap="round" />
<text x="83.5" y="173.0" font-size="6.9" font-weight="bold">E<tspan font-size="4.7" dy="2.3">Dep.</tspan><tspan dy="-2.3">=0.44 V vs. RHE</tspan></text>
<rect x="212.3" y="140.0" width="132.0" height="110.5" fill="none" stroke="#6a6a6a" stroke-width="0.9"/>
<line x1="212.60" y1="250.5" x2="212.60" y2="252.5" stroke="#6a6a6a" stroke-width="0.8"/>
<line x1="238.94" y1="250.5" x2="238.94" y2="252.5" stroke="#6a6a6a" stroke-width="0.8"/>
<line x1="265.28" y1="250.5" x2="265.28" y2="252.5" stroke="#6a6a6a" stroke-width="0.8"/>
<line x1="291.62" y1="250.5" x2="291.62" y2="252.5" stroke="#6a6a6a" stroke-width="0.8"/>
<line x1="317.96" y1="250.5" x2="317.96" y2="252.5" stroke="#6a6a6a" stroke-width="0.8"/>
<line x1="344.30" y1="250.5" x2="344.30" y2="252.5" stroke="#6a6a6a" stroke-width="0.8"/>
<line x1="225.77" y1="250.5" x2="225.77" y2="251.7" stroke="#6a6a6a" stroke-width="0.7"/>
<line x1="252.11" y1="250.5" x2="252.11" y2="251.7" stroke="#6a6a6a" stroke-width="0.7"/>
<line x1="278.45" y1="250.5" x2="278.45" y2="251.7" stroke="#6a6a6a" stroke-width="0.7"/>
<line x1="304.79" y1="250.5" x2="304.79" y2="251.7" stroke="#6a6a6a" stroke-width="0.7"/>
<line x1="331.13" y1="250.5" x2="331.13" y2="251.7" stroke="#6a6a6a" stroke-width="0.7"/>
<line x1="212.3" y1="148.50" x2="210.3" y2="148.50" stroke="#6a6a6a" stroke-width="0.8"/>
<line x1="212.3" y1="165.45" x2="210.3" y2="165.45" stroke="#6a6a6a" stroke-width="0.8"/>
<line x1="212.3" y1="182.40" x2="210.3" y2="182.40" stroke="#6a6a6a" stroke-width="0.8"/>
<line x1="212.3" y1="199.35" x2="210.3" y2="199.35" stroke="#6a6a6a" stroke-width="0.8"/>
<line x1="212.3" y1="216.30" x2="210.3" y2="216.30" stroke="#6a6a6a" stroke-width="0.8"/>
<line x1="212.3" y1="233.25" x2="210.3" y2="233.25" stroke="#6a6a6a" stroke-width="0.8"/>
<line x1="212.3" y1="250.20" x2="210.3" y2="250.20" stroke="#6a6a6a" stroke-width="0.8"/>
<line x1="212.3" y1="140.03" x2="211.10000000000002" y2="140.03" stroke="#6a6a6a" stroke-width="0.7"/>
<line x1="212.3" y1="156.98" x2="211.10000000000002" y2="156.98" stroke="#6a6a6a" stroke-width="0.7"/>
<line x1="212.3" y1="173.93" x2="211.10000000000002" y2="173.93" stroke="#6a6a6a" stroke-width="0.7"/>
<line x1="212.3" y1="190.88" x2="211.10000000000002" y2="190.88" stroke="#6a6a6a" stroke-width="0.7"/>
<line x1="212.3" y1="207.82" x2="211.10000000000002" y2="207.82" stroke="#6a6a6a" stroke-width="0.7"/>
<line x1="212.3" y1="224.78" x2="211.10000000000002" y2="224.78" stroke="#6a6a6a" stroke-width="0.7"/>
<line x1="212.3" y1="241.72" x2="211.10000000000002" y2="241.72" stroke="#6a6a6a" stroke-width="0.7"/>
<text x="212.6" y="259.8" font-size="7.0" text-anchor="middle" font-weight="bold" >0</text>
<text x="238.9" y="259.8" font-size="7.0" text-anchor="middle" font-weight="bold" >20</text>
<text x="265.3" y="259.8" font-size="7.0" text-anchor="middle" font-weight="bold" >40</text>
<text x="291.6" y="259.8" font-size="7.0" text-anchor="middle" font-weight="bold" >60</text>
<text x="318.0" y="259.8" font-size="7.0" text-anchor="middle" font-weight="bold" >80</text>
<text x="344.3" y="259.8" font-size="7.0" text-anchor="middle" font-weight="bold" >100</text>
<text x="209.3" y="151.0" font-size="7.0" text-anchor="end" font-weight="bold" >1.0</text>
<text x="209.3" y="168.0" font-size="7.0" text-anchor="end" font-weight="bold" >0.5</text>
<text x="209.3" y="184.9" font-size="7.0" text-anchor="end" font-weight="bold" >0.0</text>
<text x="209.3" y="201.8" font-size="7.0" text-anchor="end" font-weight="bold" >-0.5</text>
<text x="209.3" y="218.8" font-size="7.0" text-anchor="end" font-weight="bold" >-1.0</text>
<text x="209.3" y="235.8" font-size="7.0" text-anchor="end" font-weight="bold" >-1.5</text>
<text x="209.3" y="252.7" font-size="7.0" text-anchor="end" font-weight="bold" >-2.0</text>
<text x="278.5" y="268.0" font-size="6.9" text-anchor="middle" font-weight="bold" >Time (s)</text>
<text transform="translate(195.6,195.5) rotate(-90)" font-size="7.2" text-anchor="middle" font-weight="bold">&#916;f (Hz)</text>
<text class="pl" transform="translate(180.9,152.9) scale(1,1.05)" font-size="13.5" font-weight="bold">d<tspan dx="1.3">)</tspan></text>
<g fill="#fff" stroke="#111" stroke-width="1.1">
<circle cx="212.70" cy="150.90" r="1.05"/>
<circle cx="212.70" cy="153.50" r="1.05"/>
<circle cx="212.70" cy="156.10" r="1.05"/>
<circle cx="213.26" cy="174.32" r="1.05"/>
<circle cx="213.39" cy="174.78" r="1.05"/>
<circle cx="213.52" cy="175.60" r="1.05"/>
<circle cx="213.65" cy="176.13" r="1.05"/>
<circle cx="213.79" cy="173.25" r="1.05"/>
<circle cx="213.92" cy="174.04" r="1.05"/>
<circle cx="214.05" cy="173.39" r="1.05"/>
<circle cx="214.18" cy="171.27" r="1.05"/>
<circle cx="214.31" cy="171.14" r="1.05"/>
<circle cx="214.44" cy="171.77" r="1.05"/>
<circle cx="214.58" cy="169.40" r="1.05"/>
<circle cx="214.71" cy="169.88" r="1.05"/>
<circle cx="214.84" cy="167.70" r="1.05"/>
<circle cx="214.97" cy="168.42" r="1.05"/>
<circle cx="215.10" cy="166.85" r="1.05"/>
<circle cx="215.23" cy="166.97" r="1.05"/>
<circle cx="215.37" cy="166.16" r="1.05"/>
<circle cx="215.50" cy="167.06" r="1.05"/>
<circle cx="215.63" cy="166.38" r="1.05"/>
<circle cx="215.76" cy="165.46" r="1.05"/>
<circle cx="215.89" cy="165.70" r="1.05"/>
<circle cx="216.02" cy="164.84" r="1.05"/>
<circle cx="216.16" cy="165.70" r="1.05"/>
<circle cx="216.29" cy="164.21" r="1.05"/>
<circle cx="216.42" cy="164.96" r="1.05"/>
<circle cx="216.55" cy="165.12" r="1.05"/>
<circle cx="216.68" cy="164.74" r="1.05"/>
<circle cx="216.81" cy="164.04" r="1.05"/>
<circle cx="216.95" cy="164.61" r="1.05"/>
<circle cx="217.08" cy="166.14" r="1.05"/>
<circle cx="217.21" cy="165.40" r="1.05"/>
<circle cx="217.34" cy="167.25" r="1.05"/>
<circle cx="217.47" cy="167.07" r="1.05"/>
<circle cx="217.60" cy="168.77" r="1.05"/>
<circle cx="217.74" cy="169.09" r="1.05"/>
<circle cx="217.87" cy="169.42" r="1.05"/>
<circle cx="218.00" cy="169.18" r="1.05"/>
<circle cx="218.13" cy="169.06" r="1.05"/>
<circle cx="218.26" cy="171.16" r="1.05"/>
<circle cx="218.39" cy="172.46" r="1.05"/>
<circle cx="218.53" cy="173.76" r="1.05"/>
<circle cx="218.66" cy="172.77" r="1.05"/>
<circle cx="218.79" cy="173.55" r="1.05"/>
<circle cx="218.92" cy="176.62" r="1.05"/>
<circle cx="219.05" cy="176.93" r="1.05"/>
<circle cx="219.19" cy="177.23" r="1.05"/>
<circle cx="219.32" cy="178.86" r="1.05"/>
<circle cx="219.45" cy="178.30" r="1.05"/>
<circle cx="219.58" cy="179.42" r="1.05"/>
<circle cx="219.71" cy="178.97" r="1.05"/>
<circle cx="219.84" cy="178.03" r="1.05"/>
<circle cx="219.98" cy="176.11" r="1.05"/>
<circle cx="220.11" cy="175.30" r="1.05"/>
<circle cx="220.24" cy="175.84" r="1.05"/>
<circle cx="220.37" cy="175.81" r="1.05"/>
<circle cx="220.50" cy="173.19" r="1.05"/>
<circle cx="220.63" cy="172.20" r="1.05"/>
<circle cx="220.77" cy="171.79" r="1.05"/>
<circle cx="220.90" cy="173.04" r="1.05"/>
<circle cx="221.03" cy="171.48" r="1.05"/>
<circle cx="221.16" cy="171.16" r="1.05"/>
<circle cx="221.29" cy="172.11" r="1.05"/>
<circle cx="221.42" cy="170.72" r="1.05"/>
<circle cx="221.56" cy="169.48" r="1.05"/>
<circle cx="221.69" cy="170.33" r="1.05"/>
<circle cx="221.82" cy="168.28" r="1.05"/>
<circle cx="221.95" cy="168.83" r="1.05"/>
<circle cx="222.08" cy="169.80" r="1.05"/>
<circle cx="222.21" cy="168.37" r="1.05"/>
<circle cx="222.35" cy="168.02" r="1.05"/>
<circle cx="222.48" cy="169.35" r="1.05"/>
<circle cx="222.61" cy="168.93" r="1.05"/>
<circle cx="222.74" cy="170.74" r="1.05"/>
<circle cx="222.87" cy="168.67" r="1.05"/>
<circle cx="223.00" cy="170.75" r="1.05"/>
<circle cx="223.14" cy="170.00" r="1.05"/>
<circle cx="223.27" cy="171.45" r="1.05"/>
<circle cx="223.40" cy="170.95" r="1.05"/>
<circle cx="223.53" cy="172.01" r="1.05"/>
<circle cx="223.66" cy="171.66" r="1.05"/>
<circle cx="223.79" cy="171.98" r="1.05"/>
<circle cx="223.93" cy="173.21" r="1.05"/>
<circle cx="224.06" cy="174.80" r="1.05"/>
<circle cx="224.19" cy="174.36" r="1.05"/>
<circle cx="224.32" cy="174.87" r="1.05"/>
<circle cx="224.45" cy="176.30" r="1.05"/>
<circle cx="224.58" cy="176.62" r="1.05"/>
<circle cx="224.72" cy="178.65" r="1.05"/>
<circle cx="224.85" cy="181.19" r="1.05"/>
<circle cx="224.98" cy="183.38" r="1.05"/>
<circle cx="225.11" cy="185.99" r="1.05"/>
<circle cx="225.24" cy="187.52" r="1.05"/>
<circle cx="225.37" cy="188.60" r="1.05"/>
<circle cx="225.51" cy="188.65" r="1.05"/>
<circle cx="225.64" cy="187.79" r="1.05"/>
<circle cx="225.77" cy="185.17" r="1.05"/>
<circle cx="225.90" cy="183.76" r="1.05"/>
<circle cx="226.03" cy="180.80" r="1.05"/>
<circle cx="226.17" cy="180.31" r="1.05"/>
<circle cx="226.30" cy="178.52" r="1.05"/>
<circle cx="226.43" cy="177.62" r="1.05"/>
<circle cx="226.56" cy="176.96" r="1.05"/>
<circle cx="226.69" cy="175.67" r="1.05"/>
<circle cx="226.82" cy="174.78" r="1.05"/>
<circle cx="226.96" cy="173.87" r="1.05"/>
<circle cx="227.09" cy="172.69" r="1.05"/>
<circle cx="227.22" cy="174.10" r="1.05"/>
<circle cx="227.35" cy="172.88" r="1.05"/>
<circle cx="227.48" cy="171.45" r="1.05"/>
<circle cx="227.61" cy="173.26" r="1.05"/>
<circle cx="227.75" cy="172.08" r="1.05"/>
<circle cx="227.88" cy="171.96" r="1.05"/>
<circle cx="228.01" cy="171.31" r="1.05"/>
<circle cx="228.14" cy="170.39" r="1.05"/>
<circle cx="228.27" cy="172.61" r="1.05"/>
<circle cx="228.40" cy="170.47" r="1.05"/>
<circle cx="228.54" cy="171.06" r="1.05"/>
<circle cx="228.67" cy="172.84" r="1.05"/>
<circle cx="228.80" cy="170.76" r="1.05"/>
<circle cx="228.93" cy="172.00" r="1.05"/>
<circle cx="229.06" cy="172.26" r="1.05"/>
<circle cx="229.19" cy="172.03" r="1.05"/>
<circle cx="229.33" cy="174.23" r="1.05"/>
<circle cx="229.46" cy="173.39" r="1.05"/>
<circle cx="229.59" cy="172.88" r="1.05"/>
<circle cx="229.72" cy="174.67" r="1.05"/>
<circle cx="229.85" cy="174.09" r="1.05"/>
<circle cx="229.98" cy="176.60" r="1.05"/>
<circle cx="230.12" cy="177.74" r="1.05"/>
<circle cx="230.25" cy="178.60" r="1.05"/>
<circle cx="230.38" cy="177.16" r="1.05"/>
<circle cx="230.51" cy="179.62" r="1.05"/>
<circle cx="230.64" cy="179.51" r="1.05"/>
<circle cx="230.77" cy="180.82" r="1.05"/>
<circle cx="230.91" cy="181.27" r="1.05"/>
<circle cx="231.04" cy="182.19" r="1.05"/>
<circle cx="231.17" cy="182.66" r="1.05"/>
<circle cx="231.30" cy="184.87" r="1.05"/>
<circle cx="231.43" cy="183.52" r="1.05"/>
<circle cx="231.56" cy="184.97" r="1.05"/>
<circle cx="231.70" cy="181.75" r="1.05"/>
<circle cx="231.83" cy="183.34" r="1.05"/>
<circle cx="231.96" cy="180.53" r="1.05"/>
<circle cx="232.09" cy="179.47" r="1.05"/>
<circle cx="232.22" cy="180.44" r="1.05"/>
<circle cx="232.35" cy="179.15" r="1.05"/>
<circle cx="232.49" cy="179.08" r="1.05"/>
<circle cx="232.62" cy="177.74" r="1.05"/>
<circle cx="232.75" cy="177.43" r="1.05"/>
<circle cx="232.88" cy="175.42" r="1.05"/>
<circle cx="233.01" cy="176.42" r="1.05"/>
<circle cx="233.15" cy="175.51" r="1.05"/>
<circle cx="233.28" cy="176.23" r="1.05"/>
<circle cx="233.41" cy="173.36" r="1.05"/>
<circle cx="233.54" cy="173.18" r="1.05"/>
<circle cx="233.67" cy="174.48" r="1.05"/>
<circle cx="233.80" cy="174.91" r="1.05"/>
<circle cx="233.94" cy="173.43" r="1.05"/>
<circle cx="234.07" cy="174.08" r="1.05"/>
<circle cx="234.20" cy="173.65" r="1.05"/>
<circle cx="234.33" cy="173.22" r="1.05"/>
<circle cx="234.46" cy="173.50" r="1.05"/>
<circle cx="234.59" cy="173.99" r="1.05"/>
<circle cx="234.73" cy="172.70" r="1.05"/>
<circle cx="234.86" cy="173.68" r="1.05"/>
<circle cx="234.99" cy="175.13" r="1.05"/>
<circle cx="235.12" cy="174.26" r="1.05"/>
<circle cx="235.25" cy="175.29" r="1.05"/>
<circle cx="235.38" cy="175.26" r="1.05"/>
<circle cx="235.52" cy="176.10" r="1.05"/>
<circle cx="235.65" cy="177.49" r="1.05"/>
<circle cx="235.78" cy="178.41" r="1.05"/>
<circle cx="235.91" cy="179.69" r="1.05"/>
<circle cx="236.04" cy="179.23" r="1.05"/>
<circle cx="236.17" cy="179.38" r="1.05"/>
<circle cx="236.31" cy="180.71" r="1.05"/>
<circle cx="236.44" cy="181.18" r="1.05"/>
<circle cx="236.57" cy="183.16" r="1.05"/>
<circle cx="236.70" cy="185.97" r="1.05"/>
<circle cx="236.83" cy="188.34" r="1.05"/>
<circle cx="236.96" cy="189.90" r="1.05"/>
<circle cx="237.10" cy="192.12" r="1.05"/>
<circle cx="237.23" cy="193.71" r="1.05"/>
<circle cx="237.36" cy="194.01" r="1.05"/>
<circle cx="237.49" cy="193.21" r="1.05"/>
<circle cx="237.62" cy="190.37" r="1.05"/>
<circle cx="237.75" cy="189.67" r="1.05"/>
<circle cx="237.89" cy="186.71" r="1.05"/>
<circle cx="238.02" cy="184.39" r="1.05"/>
<circle cx="238.15" cy="183.29" r="1.05"/>
<circle cx="238.28" cy="181.26" r="1.05"/>
<circle cx="238.41" cy="182.25" r="1.05"/>
<circle cx="238.54" cy="181.62" r="1.05"/>
<circle cx="238.68" cy="180.00" r="1.05"/>
<circle cx="238.81" cy="180.39" r="1.05"/>
<circle cx="238.94" cy="178.71" r="1.05"/>
<circle cx="239.07" cy="178.12" r="1.05"/>
<circle cx="239.20" cy="177.74" r="1.05"/>
<circle cx="239.34" cy="177.31" r="1.05"/>
<circle cx="239.47" cy="178.07" r="1.05"/>
<circle cx="239.60" cy="177.92" r="1.05"/>
<circle cx="239.73" cy="177.96" r="1.05"/>
<circle cx="239.86" cy="176.22" r="1.05"/>
<circle cx="239.99" cy="177.87" r="1.05"/>
<circle cx="240.13" cy="177.12" r="1.05"/>
<circle cx="240.26" cy="176.92" r="1.05"/>
<circle cx="240.39" cy="177.36" r="1.05"/>
<circle cx="240.52" cy="177.36" r="1.05"/>
<circle cx="240.65" cy="177.00" r="1.05"/>
<circle cx="240.78" cy="177.76" r="1.05"/>
<circle cx="240.92" cy="178.72" r="1.05"/>
<circle cx="241.05" cy="179.27" r="1.05"/>
<circle cx="241.18" cy="180.22" r="1.05"/>
<circle cx="241.31" cy="178.83" r="1.05"/>
<circle cx="241.44" cy="181.17" r="1.05"/>
<circle cx="241.57" cy="181.52" r="1.05"/>
<circle cx="241.71" cy="181.92" r="1.05"/>
<circle cx="241.84" cy="183.29" r="1.05"/>
<circle cx="241.97" cy="181.82" r="1.05"/>
<circle cx="242.10" cy="184.23" r="1.05"/>
<circle cx="242.23" cy="185.34" r="1.05"/>
<circle cx="242.36" cy="184.14" r="1.05"/>
<circle cx="242.50" cy="186.21" r="1.05"/>
<circle cx="242.63" cy="188.00" r="1.05"/>
<circle cx="242.76" cy="187.18" r="1.05"/>
<circle cx="242.89" cy="189.55" r="1.05"/>
<circle cx="243.02" cy="190.59" r="1.05"/>
<circle cx="243.15" cy="190.29" r="1.05"/>
<circle cx="243.29" cy="189.57" r="1.05"/>
<circle cx="243.42" cy="188.92" r="1.05"/>
<circle cx="243.55" cy="189.69" r="1.05"/>
<circle cx="243.68" cy="187.81" r="1.05"/>
<circle cx="243.81" cy="186.73" r="1.05"/>
<circle cx="243.94" cy="186.28" r="1.05"/>
<circle cx="244.08" cy="186.78" r="1.05"/>
<circle cx="244.21" cy="184.29" r="1.05"/>
<circle cx="244.34" cy="182.97" r="1.05"/>
<circle cx="244.47" cy="184.72" r="1.05"/>
<circle cx="244.60" cy="182.45" r="1.05"/>
<circle cx="244.73" cy="182.04" r="1.05"/>
<circle cx="244.87" cy="183.02" r="1.05"/>
<circle cx="245.00" cy="180.72" r="1.05"/>
<circle cx="245.13" cy="179.76" r="1.05"/>
<circle cx="245.26" cy="181.45" r="1.05"/>
<circle cx="245.39" cy="179.43" r="1.05"/>
<circle cx="245.53" cy="179.08" r="1.05"/>
<circle cx="245.66" cy="180.72" r="1.05"/>
<circle cx="245.79" cy="178.70" r="1.05"/>
<circle cx="245.92" cy="180.34" r="1.05"/>
<circle cx="246.05" cy="178.81" r="1.05"/>
<circle cx="246.18" cy="178.75" r="1.05"/>
<circle cx="246.32" cy="178.59" r="1.05"/>
<circle cx="246.45" cy="179.59" r="1.05"/>
<circle cx="246.58" cy="179.84" r="1.05"/>
<circle cx="246.71" cy="179.69" r="1.05"/>
<circle cx="246.84" cy="180.30" r="1.05"/>
<circle cx="246.97" cy="180.14" r="1.05"/>
<circle cx="247.11" cy="181.98" r="1.05"/>
<circle cx="247.24" cy="182.73" r="1.05"/>
<circle cx="247.37" cy="182.80" r="1.05"/>
<circle cx="247.50" cy="183.57" r="1.05"/>
<circle cx="247.63" cy="182.27" r="1.05"/>
<circle cx="247.76" cy="183.43" r="1.05"/>
<circle cx="247.90" cy="184.06" r="1.05"/>
<circle cx="248.03" cy="184.76" r="1.05"/>
<circle cx="248.16" cy="187.83" r="1.05"/>
<circle cx="248.29" cy="188.82" r="1.05"/>
<circle cx="248.42" cy="190.32" r="1.05"/>
<circle cx="248.55" cy="191.27" r="1.05"/>
<circle cx="248.69" cy="192.39" r="1.05"/>
<circle cx="248.82" cy="195.69" r="1.05"/>
<circle cx="248.95" cy="197.06" r="1.05"/>
<circle cx="249.08" cy="201.05" r="1.05"/>
<circle cx="249.21" cy="199.44" r="1.05"/>
<circle cx="249.34" cy="197.83" r="1.05"/>
<circle cx="249.48" cy="197.31" r="1.05"/>
<circle cx="249.61" cy="193.00" r="1.05"/>
<circle cx="249.74" cy="192.71" r="1.05"/>
<circle cx="249.87" cy="189.35" r="1.05"/>
<circle cx="250.00" cy="188.91" r="1.05"/>
<circle cx="250.13" cy="186.41" r="1.05"/>
<circle cx="250.27" cy="187.62" r="1.05"/>
<circle cx="250.40" cy="185.61" r="1.05"/>
<circle cx="250.53" cy="184.83" r="1.05"/>
<circle cx="250.66" cy="185.05" r="1.05"/>
<circle cx="250.79" cy="184.35" r="1.05"/>
<circle cx="250.92" cy="182.98" r="1.05"/>
<circle cx="251.06" cy="182.21" r="1.05"/>
<circle cx="251.19" cy="183.00" r="1.05"/>
<circle cx="251.32" cy="181.23" r="1.05"/>
<circle cx="251.45" cy="183.16" r="1.05"/>
<circle cx="251.58" cy="181.57" r="1.05"/>
<circle cx="251.71" cy="180.96" r="1.05"/>
<circle cx="251.85" cy="181.28" r="1.05"/>
<circle cx="251.98" cy="180.69" r="1.05"/>
<circle cx="252.11" cy="181.26" r="1.05"/>
<circle cx="252.24" cy="181.94" r="1.05"/>
<circle cx="252.37" cy="181.75" r="1.05"/>
<circle cx="252.51" cy="181.78" r="1.05"/>
<circle cx="252.64" cy="183.24" r="1.05"/>
<circle cx="252.77" cy="185.09" r="1.05"/>
<circle cx="252.90" cy="187.27" r="1.05"/>
<circle cx="253.03" cy="187.87" r="1.05"/>
<circle cx="253.16" cy="190.28" r="1.05"/>
<circle cx="253.30" cy="191.15" r="1.05"/>
<circle cx="253.43" cy="191.88" r="1.05"/>
<circle cx="253.56" cy="193.75" r="1.05"/>
<circle cx="253.69" cy="197.33" r="1.05"/>
<circle cx="253.82" cy="198.33" r="1.05"/>
<circle cx="253.95" cy="200.29" r="1.05"/>
<circle cx="254.09" cy="202.17" r="1.05"/>
<circle cx="254.22" cy="204.95" r="1.05"/>
<circle cx="254.35" cy="205.79" r="1.05"/>
<circle cx="254.48" cy="207.48" r="1.05"/>
<circle cx="254.61" cy="207.76" r="1.05"/>
<circle cx="254.74" cy="205.28" r="1.05"/>
<circle cx="254.88" cy="204.69" r="1.05"/>
<circle cx="255.01" cy="202.60" r="1.05"/>
<circle cx="255.14" cy="201.08" r="1.05"/>
<circle cx="255.27" cy="199.79" r="1.05"/>
<circle cx="255.40" cy="198.94" r="1.05"/>
<circle cx="255.53" cy="198.83" r="1.05"/>
<circle cx="255.67" cy="196.80" r="1.05"/>
<circle cx="255.80" cy="198.28" r="1.05"/>
<circle cx="255.93" cy="195.50" r="1.05"/>
<circle cx="256.06" cy="196.99" r="1.05"/>
<circle cx="256.19" cy="194.79" r="1.05"/>
<circle cx="256.32" cy="196.07" r="1.05"/>
<circle cx="256.46" cy="194.41" r="1.05"/>
<circle cx="256.59" cy="193.75" r="1.05"/>
<circle cx="256.72" cy="194.84" r="1.05"/>
<circle cx="256.85" cy="195.58" r="1.05"/>
<circle cx="256.98" cy="195.63" r="1.05"/>
<circle cx="257.11" cy="195.83" r="1.05"/>
<circle cx="257.25" cy="196.29" r="1.05"/>
<circle cx="257.38" cy="194.15" r="1.05"/>
<circle cx="257.51" cy="195.33" r="1.05"/>
<circle cx="257.64" cy="195.03" r="1.05"/>
<circle cx="257.77" cy="197.20" r="1.05"/>
<circle cx="257.90" cy="196.95" r="1.05"/>
<circle cx="258.04" cy="198.31" r="1.05"/>
<circle cx="258.17" cy="199.10" r="1.05"/>
<circle cx="258.30" cy="200.33" r="1.05"/>
<circle cx="258.43" cy="200.24" r="1.05"/>
<circle cx="258.56" cy="201.55" r="1.05"/>
<circle cx="258.70" cy="201.52" r="1.05"/>
<circle cx="258.83" cy="201.16" r="1.05"/>
<circle cx="258.96" cy="204.13" r="1.05"/>
<circle cx="259.09" cy="202.94" r="1.05"/>
<circle cx="259.22" cy="203.82" r="1.05"/>
<circle cx="259.35" cy="205.08" r="1.05"/>
<circle cx="259.49" cy="202.82" r="1.05"/>
<circle cx="259.62" cy="202.99" r="1.05"/>
<circle cx="259.75" cy="200.54" r="1.05"/>
<circle cx="259.88" cy="200.24" r="1.05"/>
<circle cx="260.01" cy="200.81" r="1.05"/>
<circle cx="260.14" cy="198.34" r="1.05"/>
<circle cx="260.28" cy="198.91" r="1.05"/>
<circle cx="260.41" cy="199.41" r="1.05"/>
<circle cx="260.54" cy="196.97" r="1.05"/>
<circle cx="260.67" cy="197.75" r="1.05"/>
<circle cx="260.80" cy="197.42" r="1.05"/>
<circle cx="260.93" cy="196.75" r="1.05"/>
<circle cx="261.07" cy="196.85" r="1.05"/>
<circle cx="261.20" cy="196.47" r="1.05"/>
<circle cx="261.33" cy="194.56" r="1.05"/>
<circle cx="261.46" cy="194.96" r="1.05"/>
<circle cx="261.59" cy="195.88" r="1.05"/>
<circle cx="261.72" cy="197.10" r="1.05"/>
<circle cx="261.86" cy="195.32" r="1.05"/>
<circle cx="261.99" cy="196.53" r="1.05"/>
<circle cx="262.12" cy="195.66" r="1.05"/>
<circle cx="262.25" cy="197.92" r="1.05"/>
<circle cx="262.38" cy="197.34" r="1.05"/>
<circle cx="262.51" cy="198.07" r="1.05"/>
<circle cx="262.65" cy="199.04" r="1.05"/>
<circle cx="262.78" cy="198.31" r="1.05"/>
<circle cx="262.91" cy="200.55" r="1.05"/>
<circle cx="263.04" cy="201.48" r="1.05"/>
<circle cx="263.17" cy="202.43" r="1.05"/>
<circle cx="263.30" cy="201.75" r="1.05"/>
<circle cx="263.44" cy="202.49" r="1.05"/>
<circle cx="263.57" cy="203.19" r="1.05"/>
<circle cx="263.70" cy="206.00" r="1.05"/>
<circle cx="263.83" cy="205.71" r="1.05"/>
<circle cx="263.96" cy="205.79" r="1.05"/>
<circle cx="264.09" cy="205.31" r="1.05"/>
<circle cx="264.23" cy="204.97" r="1.05"/>
<circle cx="264.36" cy="203.19" r="1.05"/>
<circle cx="264.49" cy="202.47" r="1.05"/>
<circle cx="264.62" cy="202.85" r="1.05"/>
<circle cx="264.75" cy="202.17" r="1.05"/>
<circle cx="264.88" cy="200.26" r="1.05"/>
<circle cx="265.02" cy="199.06" r="1.05"/>
<circle cx="265.15" cy="200.72" r="1.05"/>
<circle cx="265.28" cy="199.70" r="1.05"/>
<circle cx="265.41" cy="198.90" r="1.05"/>
<circle cx="265.54" cy="198.02" r="1.05"/>
<circle cx="265.68" cy="199.15" r="1.05"/>
<circle cx="265.81" cy="197.53" r="1.05"/>
<circle cx="265.94" cy="196.80" r="1.05"/>
<circle cx="266.07" cy="196.41" r="1.05"/>
<circle cx="266.20" cy="197.04" r="1.05"/>
<circle cx="266.33" cy="197.75" r="1.05"/>
<circle cx="266.47" cy="197.27" r="1.05"/>
<circle cx="266.60" cy="198.99" r="1.05"/>
<circle cx="266.73" cy="198.50" r="1.05"/>
<circle cx="266.86" cy="198.36" r="1.05"/>
<circle cx="266.99" cy="199.32" r="1.05"/>
<circle cx="267.12" cy="199.66" r="1.05"/>
<circle cx="267.26" cy="200.26" r="1.05"/>
<circle cx="267.39" cy="200.56" r="1.05"/>
<circle cx="267.52" cy="201.31" r="1.05"/>
<circle cx="267.65" cy="201.98" r="1.05"/>
<circle cx="267.78" cy="203.72" r="1.05"/>
<circle cx="267.91" cy="203.10" r="1.05"/>
<circle cx="268.05" cy="206.01" r="1.05"/>
<circle cx="268.18" cy="206.50" r="1.05"/>
<circle cx="268.31" cy="209.99" r="1.05"/>
<circle cx="268.44" cy="209.95" r="1.05"/>
<circle cx="268.57" cy="212.43" r="1.05"/>
<circle cx="268.70" cy="211.32" r="1.05"/>
<circle cx="268.84" cy="210.20" r="1.05"/>
<circle cx="268.97" cy="206.89" r="1.05"/>
<circle cx="269.10" cy="205.31" r="1.05"/>
<circle cx="269.23" cy="203.63" r="1.05"/>
<circle cx="269.36" cy="203.74" r="1.05"/>
<circle cx="269.49" cy="202.99" r="1.05"/>
<circle cx="269.63" cy="200.82" r="1.05"/>
<circle cx="269.76" cy="200.68" r="1.05"/>
<circle cx="269.89" cy="200.20" r="1.05"/>
<circle cx="270.02" cy="201.69" r="1.05"/>
<circle cx="270.15" cy="199.97" r="1.05"/>
<circle cx="270.28" cy="199.91" r="1.05"/>
<circle cx="270.42" cy="198.91" r="1.05"/>
<circle cx="270.55" cy="199.66" r="1.05"/>
<circle cx="270.68" cy="199.93" r="1.05"/>
<circle cx="270.81" cy="199.50" r="1.05"/>
<circle cx="270.94" cy="197.78" r="1.05"/>
<circle cx="271.07" cy="199.02" r="1.05"/>
<circle cx="271.21" cy="199.32" r="1.05"/>
<circle cx="271.34" cy="198.41" r="1.05"/>
<circle cx="271.47" cy="200.67" r="1.05"/>
<circle cx="271.60" cy="199.84" r="1.05"/>
<circle cx="271.73" cy="200.24" r="1.05"/>
<circle cx="271.87" cy="201.63" r="1.05"/>
<circle cx="272.00" cy="202.11" r="1.05"/>
<circle cx="272.13" cy="202.53" r="1.05"/>
<circle cx="272.26" cy="204.17" r="1.05"/>
<circle cx="272.39" cy="204.03" r="1.05"/>
<circle cx="272.52" cy="204.37" r="1.05"/>
<circle cx="272.66" cy="204.47" r="1.05"/>
<circle cx="272.79" cy="206.59" r="1.05"/>
<circle cx="272.92" cy="206.98" r="1.05"/>
<circle cx="273.05" cy="208.33" r="1.05"/>
<circle cx="273.18" cy="208.75" r="1.05"/>
<circle cx="273.31" cy="208.07" r="1.05"/>
<circle cx="273.45" cy="207.33" r="1.05"/>
<circle cx="273.58" cy="206.84" r="1.05"/>
<circle cx="273.71" cy="205.88" r="1.05"/>
<circle cx="273.84" cy="207.08" r="1.05"/>
<circle cx="273.97" cy="205.63" r="1.05"/>
<circle cx="274.10" cy="204.04" r="1.05"/>
<circle cx="274.24" cy="204.60" r="1.05"/>
<circle cx="274.37" cy="203.79" r="1.05"/>
<circle cx="274.50" cy="201.73" r="1.05"/>
<circle cx="274.63" cy="203.02" r="1.05"/>
<circle cx="274.76" cy="201.21" r="1.05"/>
<circle cx="274.89" cy="202.83" r="1.05"/>
<circle cx="275.03" cy="200.29" r="1.05"/>
<circle cx="275.16" cy="200.42" r="1.05"/>
<circle cx="275.29" cy="200.15" r="1.05"/>
<circle cx="275.42" cy="201.65" r="1.05"/>
<circle cx="275.55" cy="201.52" r="1.05"/>
<circle cx="275.68" cy="200.96" r="1.05"/>
<circle cx="275.82" cy="199.97" r="1.05"/>
<circle cx="275.95" cy="200.91" r="1.05"/>
<circle cx="276.08" cy="201.91" r="1.05"/>
<circle cx="276.21" cy="200.59" r="1.05"/>
<circle cx="276.34" cy="203.26" r="1.05"/>
<circle cx="276.47" cy="203.55" r="1.05"/>
<circle cx="276.61" cy="204.34" r="1.05"/>
<circle cx="276.74" cy="204.36" r="1.05"/>
<circle cx="276.87" cy="204.83" r="1.05"/>
<circle cx="277.00" cy="206.51" r="1.05"/>
<circle cx="277.13" cy="205.52" r="1.05"/>
<circle cx="277.26" cy="206.66" r="1.05"/>
<circle cx="277.40" cy="207.55" r="1.05"/>
<circle cx="277.53" cy="209.46" r="1.05"/>
<circle cx="277.66" cy="213.12" r="1.05"/>
<circle cx="277.79" cy="213.27" r="1.05"/>
<circle cx="277.92" cy="216.36" r="1.05"/>
<circle cx="278.05" cy="214.46" r="1.05"/>
<circle cx="278.19" cy="213.90" r="1.05"/>
<circle cx="278.32" cy="211.60" r="1.05"/>
<circle cx="278.45" cy="209.68" r="1.05"/>
<circle cx="278.58" cy="208.74" r="1.05"/>
<circle cx="278.71" cy="205.64" r="1.05"/>
<circle cx="278.85" cy="205.42" r="1.05"/>
<circle cx="278.98" cy="205.00" r="1.05"/>
<circle cx="279.11" cy="204.55" r="1.05"/>
<circle cx="279.24" cy="204.63" r="1.05"/>
<circle cx="279.37" cy="204.68" r="1.05"/>
<circle cx="279.50" cy="203.89" r="1.05"/>
<circle cx="279.64" cy="204.03" r="1.05"/>
<circle cx="279.77" cy="203.13" r="1.05"/>
<circle cx="279.90" cy="202.03" r="1.05"/>
<circle cx="280.03" cy="202.28" r="1.05"/>
<circle cx="280.16" cy="202.84" r="1.05"/>
<circle cx="280.29" cy="203.02" r="1.05"/>
<circle cx="280.43" cy="201.95" r="1.05"/>
<circle cx="280.56" cy="202.08" r="1.05"/>
<circle cx="280.69" cy="202.99" r="1.05"/>
<circle cx="280.82" cy="202.30" r="1.05"/>
<circle cx="280.95" cy="204.38" r="1.05"/>
<circle cx="281.08" cy="202.54" r="1.05"/>
<circle cx="281.22" cy="204.74" r="1.05"/>
<circle cx="281.35" cy="204.90" r="1.05"/>
<circle cx="281.48" cy="204.78" r="1.05"/>
<circle cx="281.61" cy="206.44" r="1.05"/>
<circle cx="281.74" cy="206.93" r="1.05"/>
<circle cx="281.87" cy="208.98" r="1.05"/>
<circle cx="282.01" cy="209.60" r="1.05"/>
<circle cx="282.14" cy="209.67" r="1.05"/>
<circle cx="282.27" cy="211.28" r="1.05"/>
<circle cx="282.40" cy="212.20" r="1.05"/>
<circle cx="282.53" cy="211.23" r="1.05"/>
<circle cx="282.66" cy="213.15" r="1.05"/>
<circle cx="282.80" cy="212.34" r="1.05"/>
<circle cx="282.93" cy="211.93" r="1.05"/>
<circle cx="283.06" cy="210.53" r="1.05"/>
<circle cx="283.19" cy="208.79" r="1.05"/>
<circle cx="283.32" cy="207.56" r="1.05"/>
<circle cx="283.45" cy="208.00" r="1.05"/>
<circle cx="283.59" cy="206.18" r="1.05"/>
<circle cx="283.72" cy="206.97" r="1.05"/>
<circle cx="283.85" cy="205.92" r="1.05"/>
<circle cx="283.98" cy="206.06" r="1.05"/>
<circle cx="284.11" cy="204.38" r="1.05"/>
<circle cx="284.24" cy="203.85" r="1.05"/>
<circle cx="284.38" cy="205.09" r="1.05"/>
<circle cx="284.51" cy="204.20" r="1.05"/>
<circle cx="284.64" cy="203.29" r="1.05"/>
<circle cx="284.77" cy="203.65" r="1.05"/>
<circle cx="284.90" cy="203.30" r="1.05"/>
<circle cx="285.04" cy="203.89" r="1.05"/>
<circle cx="285.17" cy="203.68" r="1.05"/>
<circle cx="285.30" cy="203.28" r="1.05"/>
<circle cx="285.43" cy="205.35" r="1.05"/>
<circle cx="285.56" cy="205.45" r="1.05"/>
<circle cx="285.69" cy="205.53" r="1.05"/>
<circle cx="285.83" cy="204.77" r="1.05"/>
<circle cx="285.96" cy="205.09" r="1.05"/>
<circle cx="286.09" cy="207.09" r="1.05"/>
<circle cx="286.22" cy="207.99" r="1.05"/>
<circle cx="286.35" cy="208.26" r="1.05"/>
<circle cx="286.48" cy="207.87" r="1.05"/>
<circle cx="286.62" cy="209.99" r="1.05"/>
<circle cx="286.75" cy="210.30" r="1.05"/>
<circle cx="286.88" cy="210.77" r="1.05"/>
<circle cx="287.01" cy="212.21" r="1.05"/>
<circle cx="287.14" cy="212.73" r="1.05"/>
<circle cx="287.27" cy="214.15" r="1.05"/>
<circle cx="287.41" cy="213.75" r="1.05"/>
<circle cx="287.54" cy="213.52" r="1.05"/>
<circle cx="287.67" cy="210.44" r="1.05"/>
<circle cx="287.80" cy="210.84" r="1.05"/>
<circle cx="287.93" cy="211.04" r="1.05"/>
<circle cx="288.06" cy="209.55" r="1.05"/>
<circle cx="288.20" cy="208.65" r="1.05"/>
<circle cx="288.33" cy="208.71" r="1.05"/>
<circle cx="288.46" cy="205.97" r="1.05"/>
<circle cx="288.59" cy="207.39" r="1.05"/>
<circle cx="288.72" cy="206.46" r="1.05"/>
<circle cx="288.85" cy="205.93" r="1.05"/>
<circle cx="288.99" cy="204.85" r="1.05"/>
<circle cx="289.12" cy="205.36" r="1.05"/>
<circle cx="289.25" cy="203.86" r="1.05"/>
<circle cx="289.38" cy="204.75" r="1.05"/>
<circle cx="289.51" cy="203.99" r="1.05"/>
<circle cx="289.64" cy="205.74" r="1.05"/>
<circle cx="289.78" cy="205.50" r="1.05"/>
<circle cx="289.91" cy="204.79" r="1.05"/>
<circle cx="290.04" cy="205.76" r="1.05"/>
<circle cx="290.17" cy="205.10" r="1.05"/>
<circle cx="290.30" cy="205.84" r="1.05"/>
<circle cx="290.43" cy="205.35" r="1.05"/>
<circle cx="290.57" cy="207.67" r="1.05"/>
<circle cx="290.70" cy="208.01" r="1.05"/>
<circle cx="290.83" cy="208.63" r="1.05"/>
<circle cx="290.96" cy="207.57" r="1.05"/>
<circle cx="291.09" cy="210.27" r="1.05"/>
<circle cx="291.22" cy="209.09" r="1.05"/>
<circle cx="291.36" cy="211.70" r="1.05"/>
<circle cx="291.49" cy="213.04" r="1.05"/>
<circle cx="291.62" cy="213.85" r="1.05"/>
<circle cx="291.75" cy="216.86" r="1.05"/>
<circle cx="291.88" cy="219.81" r="1.05"/>
<circle cx="292.02" cy="219.41" r="1.05"/>
<circle cx="292.15" cy="217.06" r="1.05"/>
<circle cx="292.28" cy="216.39" r="1.05"/>
<circle cx="292.41" cy="213.29" r="1.05"/>
<circle cx="292.54" cy="213.15" r="1.05"/>
<circle cx="292.67" cy="210.69" r="1.05"/>
<circle cx="292.81" cy="208.96" r="1.05"/>
<circle cx="292.94" cy="210.55" r="1.05"/>
<circle cx="293.07" cy="207.57" r="1.05"/>
<circle cx="293.20" cy="207.47" r="1.05"/>
<circle cx="293.33" cy="208.30" r="1.05"/>
<circle cx="293.46" cy="206.14" r="1.05"/>
<circle cx="293.60" cy="206.86" r="1.05"/>
<circle cx="293.73" cy="207.36" r="1.05"/>
<circle cx="293.86" cy="206.41" r="1.05"/>
<circle cx="293.99" cy="205.60" r="1.05"/>
<circle cx="294.12" cy="206.56" r="1.05"/>
<circle cx="294.25" cy="206.71" r="1.05"/>
<circle cx="294.39" cy="206.12" r="1.05"/>
<circle cx="294.52" cy="206.37" r="1.05"/>
<circle cx="294.65" cy="205.78" r="1.05"/>
<circle cx="294.78" cy="206.28" r="1.05"/>
<circle cx="294.91" cy="208.15" r="1.05"/>
<circle cx="295.04" cy="208.52" r="1.05"/>
<circle cx="295.18" cy="206.48" r="1.05"/>
<circle cx="295.31" cy="207.54" r="1.05"/>
<circle cx="295.44" cy="208.22" r="1.05"/>
<circle cx="295.57" cy="210.37" r="1.05"/>
<circle cx="295.70" cy="209.54" r="1.05"/>
<circle cx="295.83" cy="210.22" r="1.05"/>
<circle cx="295.97" cy="212.58" r="1.05"/>
<circle cx="296.10" cy="211.86" r="1.05"/>
<circle cx="296.23" cy="214.82" r="1.05"/>
<circle cx="296.36" cy="214.35" r="1.05"/>
<circle cx="296.49" cy="216.39" r="1.05"/>
<circle cx="296.62" cy="217.09" r="1.05"/>
<circle cx="296.76" cy="214.84" r="1.05"/>
<circle cx="296.89" cy="215.52" r="1.05"/>
<circle cx="297.02" cy="213.74" r="1.05"/>
<circle cx="297.15" cy="212.45" r="1.05"/>
<circle cx="297.28" cy="211.23" r="1.05"/>
<circle cx="297.41" cy="212.21" r="1.05"/>
<circle cx="297.55" cy="211.15" r="1.05"/>
<circle cx="297.68" cy="209.83" r="1.05"/>
<circle cx="297.81" cy="210.60" r="1.05"/>
<circle cx="297.94" cy="208.40" r="1.05"/>
<circle cx="298.07" cy="208.56" r="1.05"/>
<circle cx="298.21" cy="207.21" r="1.05"/>
<circle cx="298.34" cy="207.54" r="1.05"/>
<circle cx="298.47" cy="208.64" r="1.05"/>
<circle cx="298.60" cy="207.42" r="1.05"/>
<circle cx="298.73" cy="206.38" r="1.05"/>
<circle cx="298.86" cy="206.53" r="1.05"/>
<circle cx="299.00" cy="207.60" r="1.05"/>
<circle cx="299.13" cy="206.74" r="1.05"/>
<circle cx="299.26" cy="208.49" r="1.05"/>
<circle cx="299.39" cy="206.58" r="1.05"/>
<circle cx="299.52" cy="208.99" r="1.05"/>
<circle cx="299.65" cy="208.74" r="1.05"/>
<circle cx="299.79" cy="209.71" r="1.05"/>
<circle cx="299.92" cy="209.02" r="1.05"/>
<circle cx="300.05" cy="208.86" r="1.05"/>
<circle cx="300.18" cy="209.76" r="1.05"/>
<circle cx="300.31" cy="211.64" r="1.05"/>
<circle cx="300.44" cy="210.81" r="1.05"/>
<circle cx="300.58" cy="211.81" r="1.05"/>
<circle cx="300.71" cy="214.38" r="1.05"/>
<circle cx="300.84" cy="215.48" r="1.05"/>
<circle cx="300.97" cy="216.29" r="1.05"/>
<circle cx="301.10" cy="217.14" r="1.05"/>
<circle cx="301.23" cy="217.30" r="1.05"/>
<circle cx="301.37" cy="218.34" r="1.05"/>
<circle cx="301.50" cy="217.05" r="1.05"/>
<circle cx="301.63" cy="215.87" r="1.05"/>
<circle cx="301.76" cy="214.72" r="1.05"/>
<circle cx="301.89" cy="212.90" r="1.05"/>
<circle cx="302.02" cy="212.32" r="1.05"/>
<circle cx="302.16" cy="212.03" r="1.05"/>
<circle cx="302.29" cy="211.90" r="1.05"/>
<circle cx="302.42" cy="210.39" r="1.05"/>
<circle cx="302.55" cy="212.03" r="1.05"/>
<circle cx="302.68" cy="210.49" r="1.05"/>
<circle cx="302.81" cy="210.46" r="1.05"/>
<circle cx="302.95" cy="210.46" r="1.05"/>
<circle cx="303.08" cy="208.41" r="1.05"/>
<circle cx="303.21" cy="209.87" r="1.05"/>
<circle cx="303.34" cy="209.88" r="1.05"/>
<circle cx="303.47" cy="207.98" r="1.05"/>
<circle cx="303.60" cy="207.59" r="1.05"/>
<circle cx="303.74" cy="209.39" r="1.05"/>
<circle cx="303.87" cy="209.75" r="1.05"/>
<circle cx="304.00" cy="209.72" r="1.05"/>
<circle cx="304.13" cy="208.98" r="1.05"/>
<circle cx="304.26" cy="209.83" r="1.05"/>
<circle cx="304.39" cy="208.98" r="1.05"/>
<circle cx="304.53" cy="209.78" r="1.05"/>
<circle cx="304.66" cy="210.82" r="1.05"/>
<circle cx="304.79" cy="212.27" r="1.05"/>
<circle cx="304.92" cy="211.24" r="1.05"/>
<circle cx="305.05" cy="214.17" r="1.05"/>
<circle cx="305.19" cy="212.68" r="1.05"/>
<circle cx="305.32" cy="216.17" r="1.05"/>
<circle cx="305.45" cy="215.61" r="1.05"/>
<circle cx="305.58" cy="218.88" r="1.05"/>
<circle cx="305.71" cy="220.93" r="1.05"/>
<circle cx="305.84" cy="223.26" r="1.05"/>
<circle cx="305.98" cy="223.40" r="1.05"/>
<circle cx="306.11" cy="222.99" r="1.05"/>
<circle cx="306.24" cy="220.11" r="1.05"/>
<circle cx="306.37" cy="219.52" r="1.05"/>
<circle cx="306.50" cy="215.89" r="1.05"/>
<circle cx="306.63" cy="216.56" r="1.05"/>
<circle cx="306.77" cy="214.80" r="1.05"/>
<circle cx="306.90" cy="212.62" r="1.05"/>
<circle cx="307.03" cy="214.23" r="1.05"/>
<circle cx="307.16" cy="212.00" r="1.05"/>
<circle cx="307.29" cy="210.81" r="1.05"/>
<circle cx="307.42" cy="210.82" r="1.05"/>
<circle cx="307.56" cy="209.79" r="1.05"/>
<circle cx="307.69" cy="210.10" r="1.05"/>
<circle cx="307.82" cy="210.93" r="1.05"/>
<circle cx="307.95" cy="211.44" r="1.05"/>
<circle cx="308.08" cy="210.37" r="1.05"/>
<circle cx="308.21" cy="210.89" r="1.05"/>
<circle cx="308.35" cy="210.82" r="1.05"/>
<circle cx="308.48" cy="210.63" r="1.05"/>
<circle cx="308.61" cy="209.94" r="1.05"/>
<circle cx="308.74" cy="209.83" r="1.05"/>
<circle cx="308.87" cy="209.90" r="1.05"/>
<circle cx="309.00" cy="211.30" r="1.05"/>
<circle cx="309.14" cy="210.87" r="1.05"/>
<circle cx="309.27" cy="212.78" r="1.05"/>
<circle cx="309.40" cy="212.28" r="1.05"/>
<circle cx="309.53" cy="213.59" r="1.05"/>
<circle cx="309.66" cy="214.20" r="1.05"/>
<circle cx="309.79" cy="215.15" r="1.05"/>
<circle cx="309.93" cy="214.71" r="1.05"/>
<circle cx="310.06" cy="215.79" r="1.05"/>
<circle cx="310.19" cy="217.77" r="1.05"/>
<circle cx="310.32" cy="217.40" r="1.05"/>
<circle cx="310.45" cy="219.49" r="1.05"/>
<circle cx="310.58" cy="221.15" r="1.05"/>
<circle cx="310.72" cy="219.86" r="1.05"/>
<circle cx="310.85" cy="220.52" r="1.05"/>
<circle cx="310.98" cy="218.81" r="1.05"/>
<circle cx="311.11" cy="218.87" r="1.05"/>
<circle cx="311.24" cy="217.00" r="1.05"/>
<circle cx="311.38" cy="216.85" r="1.05"/>
<circle cx="311.51" cy="215.96" r="1.05"/>
<circle cx="311.64" cy="214.02" r="1.05"/>
<circle cx="311.77" cy="214.24" r="1.05"/>
<circle cx="311.90" cy="213.84" r="1.05"/>
<circle cx="312.03" cy="213.02" r="1.05"/>
<circle cx="312.17" cy="213.08" r="1.05"/>
<circle cx="312.30" cy="213.35" r="1.05"/>
<circle cx="312.43" cy="212.73" r="1.05"/>
<circle cx="312.56" cy="212.53" r="1.05"/>
<circle cx="312.69" cy="210.62" r="1.05"/>
<circle cx="312.82" cy="211.98" r="1.05"/>
<circle cx="312.96" cy="211.76" r="1.05"/>
<circle cx="313.09" cy="212.63" r="1.05"/>
<circle cx="313.22" cy="210.33" r="1.05"/>
<circle cx="313.35" cy="210.98" r="1.05"/>
<circle cx="313.48" cy="213.35" r="1.05"/>
<circle cx="313.61" cy="212.14" r="1.05"/>
<circle cx="313.75" cy="213.43" r="1.05"/>
<circle cx="313.88" cy="213.63" r="1.05"/>
<circle cx="314.01" cy="213.68" r="1.05"/>
<circle cx="314.14" cy="214.40" r="1.05"/>
<circle cx="314.27" cy="215.39" r="1.05"/>
<circle cx="314.40" cy="217.22" r="1.05"/>
<circle cx="314.54" cy="216.81" r="1.05"/>
<circle cx="314.67" cy="218.28" r="1.05"/>
<circle cx="314.80" cy="217.86" r="1.05"/>
<circle cx="314.93" cy="219.79" r="1.05"/>
<circle cx="315.06" cy="220.40" r="1.05"/>
<circle cx="315.19" cy="221.66" r="1.05"/>
<circle cx="315.33" cy="222.92" r="1.05"/>
<circle cx="315.46" cy="220.19" r="1.05"/>
<circle cx="315.59" cy="221.68" r="1.05"/>
<circle cx="315.72" cy="219.95" r="1.05"/>
<circle cx="315.85" cy="218.25" r="1.05"/>
<circle cx="315.98" cy="218.03" r="1.05"/>
<circle cx="316.12" cy="216.34" r="1.05"/>
<circle cx="316.25" cy="216.01" r="1.05"/>
<circle cx="316.38" cy="216.94" r="1.05"/>
<circle cx="316.51" cy="216.02" r="1.05"/>
<circle cx="316.64" cy="215.88" r="1.05"/>
<circle cx="316.77" cy="213.57" r="1.05"/>
<circle cx="316.91" cy="213.01" r="1.05"/>
<circle cx="317.04" cy="213.37" r="1.05"/>
<circle cx="317.17" cy="213.39" r="1.05"/>
<circle cx="317.30" cy="213.74" r="1.05"/>
<circle cx="317.43" cy="212.53" r="1.05"/>
<circle cx="317.56" cy="213.61" r="1.05"/>
<circle cx="317.70" cy="213.23" r="1.05"/>
<circle cx="317.83" cy="212.56" r="1.05"/>
<circle cx="317.96" cy="214.03" r="1.05"/>
<circle cx="318.09" cy="212.42" r="1.05"/>
<circle cx="318.22" cy="214.09" r="1.05"/>
<circle cx="318.36" cy="213.44" r="1.05"/>
<circle cx="318.49" cy="213.53" r="1.05"/>
<circle cx="318.62" cy="215.19" r="1.05"/>
<circle cx="318.75" cy="215.90" r="1.05"/>
<circle cx="318.88" cy="216.79" r="1.05"/>
<circle cx="319.01" cy="216.89" r="1.05"/>
<circle cx="319.15" cy="219.13" r="1.05"/>
<circle cx="319.28" cy="219.69" r="1.05"/>
<circle cx="319.41" cy="219.24" r="1.05"/>
<circle cx="319.54" cy="220.42" r="1.05"/>
<circle cx="319.67" cy="224.84" r="1.05"/>
<circle cx="319.80" cy="225.50" r="1.05"/>
<circle cx="319.94" cy="226.45" r="1.05"/>
<circle cx="320.07" cy="226.94" r="1.05"/>
<circle cx="320.20" cy="226.76" r="1.05"/>
<circle cx="320.33" cy="223.44" r="1.05"/>
<circle cx="320.46" cy="222.06" r="1.05"/>
<circle cx="320.59" cy="221.31" r="1.05"/>
<circle cx="320.73" cy="219.31" r="1.05"/>
<circle cx="320.86" cy="219.22" r="1.05"/>
<circle cx="320.99" cy="219.26" r="1.05"/>
<circle cx="321.12" cy="218.23" r="1.05"/>
<circle cx="321.25" cy="217.24" r="1.05"/>
<circle cx="321.38" cy="216.72" r="1.05"/>
<circle cx="321.52" cy="215.46" r="1.05"/>
<circle cx="321.65" cy="215.94" r="1.05"/>
<circle cx="321.78" cy="215.65" r="1.05"/>
<circle cx="321.91" cy="215.25" r="1.05"/>
<circle cx="322.04" cy="214.84" r="1.05"/>
<circle cx="322.17" cy="215.42" r="1.05"/>
<circle cx="322.31" cy="213.99" r="1.05"/>
<circle cx="322.44" cy="215.37" r="1.05"/>
<circle cx="322.57" cy="216.20" r="1.05"/>
<circle cx="322.70" cy="213.96" r="1.05"/>
<circle cx="322.83" cy="214.81" r="1.05"/>
<circle cx="322.96" cy="217.08" r="1.05"/>
<circle cx="323.10" cy="215.17" r="1.05"/>
<circle cx="323.23" cy="217.58" r="1.05"/>
<circle cx="323.36" cy="217.52" r="1.05"/>
<circle cx="323.49" cy="216.82" r="1.05"/>
<circle cx="323.62" cy="218.95" r="1.05"/>
<circle cx="323.75" cy="218.06" r="1.05"/>
<circle cx="323.89" cy="221.03" r="1.05"/>
<circle cx="324.02" cy="220.42" r="1.05"/>
<circle cx="324.15" cy="222.88" r="1.05"/>
<circle cx="324.28" cy="223.68" r="1.05"/>
<circle cx="324.41" cy="222.60" r="1.05"/>
<circle cx="324.54" cy="224.20" r="1.05"/>
<circle cx="324.68" cy="224.46" r="1.05"/>
<circle cx="324.81" cy="225.39" r="1.05"/>
<circle cx="324.94" cy="222.85" r="1.05"/>
<circle cx="325.07" cy="222.00" r="1.05"/>
<circle cx="325.20" cy="221.33" r="1.05"/>
<circle cx="325.34" cy="222.51" r="1.05"/>
<circle cx="325.47" cy="220.20" r="1.05"/>
<circle cx="325.60" cy="219.72" r="1.05"/>
<circle cx="325.73" cy="219.40" r="1.05"/>
<circle cx="325.86" cy="219.09" r="1.05"/>
<circle cx="325.99" cy="218.19" r="1.05"/>
<circle cx="326.13" cy="219.11" r="1.05"/>
<circle cx="326.26" cy="217.12" r="1.05"/>
<circle cx="326.39" cy="217.12" r="1.05"/>
<circle cx="326.52" cy="217.85" r="1.05"/>
<circle cx="326.65" cy="216.04" r="1.05"/>
<circle cx="326.78" cy="215.73" r="1.05"/>
<circle cx="326.92" cy="217.40" r="1.05"/>
<circle cx="327.05" cy="216.07" r="1.05"/>
<circle cx="327.18" cy="217.67" r="1.05"/>
<circle cx="327.31" cy="217.67" r="1.05"/>
<circle cx="327.44" cy="216.75" r="1.05"/>
<circle cx="327.57" cy="216.97" r="1.05"/>
<circle cx="327.71" cy="216.77" r="1.05"/>
<circle cx="327.84" cy="219.24" r="1.05"/>
<circle cx="327.97" cy="218.65" r="1.05"/>
<circle cx="328.10" cy="218.98" r="1.05"/>
<circle cx="328.23" cy="219.20" r="1.05"/>
<circle cx="328.36" cy="220.04" r="1.05"/>
<circle cx="328.50" cy="222.47" r="1.05"/>
<circle cx="328.63" cy="221.33" r="1.05"/>
<circle cx="328.76" cy="223.27" r="1.05"/>
<circle cx="328.89" cy="224.31" r="1.05"/>
<circle cx="329.02" cy="224.92" r="1.05"/>
<circle cx="329.15" cy="225.78" r="1.05"/>
<circle cx="329.29" cy="226.42" r="1.05"/>
<circle cx="329.42" cy="226.10" r="1.05"/>
<circle cx="329.55" cy="226.92" r="1.05"/>
<circle cx="329.68" cy="226.31" r="1.05"/>
<circle cx="329.81" cy="224.66" r="1.05"/>
<circle cx="329.94" cy="223.08" r="1.05"/>
<circle cx="330.08" cy="224.06" r="1.05"/>
<circle cx="330.21" cy="221.51" r="1.05"/>
<circle cx="330.34" cy="220.77" r="1.05"/>
<circle cx="330.47" cy="221.34" r="1.05"/>
<circle cx="330.60" cy="221.31" r="1.05"/>
<circle cx="330.73" cy="220.14" r="1.05"/>
<circle cx="330.87" cy="218.49" r="1.05"/>
<circle cx="331.00" cy="220.37" r="1.05"/>
<circle cx="331.13" cy="217.92" r="1.05"/>
<circle cx="331.26" cy="218.17" r="1.05"/>
<circle cx="331.39" cy="219.69" r="1.05"/>
<circle cx="331.53" cy="219.09" r="1.05"/>
<circle cx="331.66" cy="218.99" r="1.05"/>
<circle cx="331.79" cy="217.29" r="1.05"/>
<circle cx="331.92" cy="219.45" r="1.05"/>
<circle cx="332.05" cy="218.49" r="1.05"/>
<circle cx="332.18" cy="217.78" r="1.05"/>
<circle cx="332.32" cy="220.17" r="1.05"/>
<circle cx="332.45" cy="220.97" r="1.05"/>
<circle cx="332.58" cy="219.18" r="1.05"/>
<circle cx="332.71" cy="220.81" r="1.05"/>
<circle cx="332.84" cy="222.60" r="1.05"/>
<circle cx="332.97" cy="221.81" r="1.05"/>
<circle cx="333.11" cy="222.49" r="1.05"/>
<circle cx="333.24" cy="224.59" r="1.05"/>
<circle cx="333.37" cy="224.77" r="1.05"/>
<circle cx="333.50" cy="227.58" r="1.05"/>
<circle cx="333.63" cy="228.98" r="1.05"/>
<circle cx="333.76" cy="231.05" r="1.05"/>
<circle cx="333.90" cy="232.65" r="1.05"/>
<circle cx="334.03" cy="232.73" r="1.05"/>
<circle cx="334.16" cy="233.02" r="1.05"/>
<circle cx="334.29" cy="230.93" r="1.05"/>
<circle cx="334.42" cy="228.71" r="1.05"/>
<circle cx="334.55" cy="227.19" r="1.05"/>
<circle cx="334.69" cy="225.18" r="1.05"/>
<circle cx="334.82" cy="223.91" r="1.05"/>
<circle cx="334.95" cy="224.99" r="1.05"/>
<circle cx="335.08" cy="222.90" r="1.05"/>
<circle cx="335.21" cy="221.63" r="1.05"/>
<circle cx="335.34" cy="223.37" r="1.05"/>
<circle cx="335.48" cy="221.69" r="1.05"/>
<circle cx="335.61" cy="221.71" r="1.05"/>
<circle cx="335.74" cy="220.49" r="1.05"/>
<circle cx="335.87" cy="219.73" r="1.05"/>
<circle cx="336.00" cy="220.01" r="1.05"/>
<circle cx="336.13" cy="221.19" r="1.05"/>
<circle cx="336.27" cy="219.68" r="1.05"/>
<circle cx="336.40" cy="221.37" r="1.05"/>
<circle cx="336.53" cy="219.90" r="1.05"/>
<circle cx="336.66" cy="221.62" r="1.05"/>
<circle cx="336.79" cy="220.01" r="1.05"/>
<circle cx="336.92" cy="221.03" r="1.05"/>
<circle cx="337.06" cy="220.61" r="1.05"/>
<circle cx="337.19" cy="221.13" r="1.05"/>
<circle cx="337.32" cy="222.64" r="1.05"/>
<circle cx="337.45" cy="222.83" r="1.05"/>
<circle cx="337.58" cy="223.94" r="1.05"/>
<circle cx="337.71" cy="223.81" r="1.05"/>
<circle cx="337.85" cy="224.81" r="1.05"/>
<circle cx="337.98" cy="225.64" r="1.05"/>
<circle cx="338.11" cy="227.97" r="1.05"/>
<circle cx="338.24" cy="226.72" r="1.05"/>
<circle cx="338.37" cy="228.48" r="1.05"/>
<circle cx="338.51" cy="230.52" r="1.05"/>
<circle cx="338.64" cy="230.71" r="1.05"/>
<circle cx="338.77" cy="230.10" r="1.05"/>
<circle cx="338.90" cy="231.22" r="1.05"/>
<circle cx="339.03" cy="228.11" r="1.05"/>
<circle cx="339.16" cy="227.40" r="1.05"/>
<circle cx="339.30" cy="226.33" r="1.05"/>
<circle cx="339.43" cy="226.70" r="1.05"/>
<circle cx="339.56" cy="227.09" r="1.05"/>
<circle cx="339.69" cy="224.94" r="1.05"/>
<circle cx="339.82" cy="224.34" r="1.05"/>
<circle cx="339.95" cy="225.11" r="1.05"/>
<circle cx="340.09" cy="222.74" r="1.05"/>
<circle cx="340.22" cy="222.14" r="1.05"/>
<circle cx="340.35" cy="223.45" r="1.05"/>
<circle cx="340.48" cy="221.65" r="1.05"/>
<circle cx="340.61" cy="222.56" r="1.05"/>
<circle cx="340.74" cy="221.40" r="1.05"/>
<circle cx="340.88" cy="222.50" r="1.05"/>
<circle cx="341.01" cy="223.14" r="1.05"/>
<circle cx="341.14" cy="222.17" r="1.05"/>
<circle cx="341.27" cy="221.85" r="1.05"/>
<circle cx="341.40" cy="222.98" r="1.05"/>
<circle cx="341.53" cy="223.47" r="1.05"/>
<circle cx="341.67" cy="222.17" r="1.05"/>
<circle cx="341.80" cy="223.08" r="1.05"/>
<circle cx="341.93" cy="223.94" r="1.05"/>
<circle cx="342.06" cy="224.84" r="1.05"/>
<circle cx="342.19" cy="224.87" r="1.05"/>
<circle cx="342.32" cy="226.55" r="1.05"/>
<circle cx="342.46" cy="226.24" r="1.05"/>
<circle cx="342.59" cy="228.70" r="1.05"/>
<circle cx="342.72" cy="228.08" r="1.05"/>
<circle cx="342.85" cy="228.60" r="1.05"/>
<circle cx="342.98" cy="229.10" r="1.05"/>
<circle cx="343.11" cy="230.13" r="1.05"/>
<circle cx="343.25" cy="231.27" r="1.05"/>
<circle cx="343.38" cy="233.93" r="1.05"/>
<circle cx="343.51" cy="232.07" r="1.05"/>
<circle cx="343.64" cy="231.33" r="1.05"/>
<circle cx="343.77" cy="231.88" r="1.05"/>
<circle cx="343.90" cy="231.13" r="1.05"/>
<circle cx="344.04" cy="229.86" r="1.05"/>
<circle cx="344.17" cy="227.78" r="1.05"/>
<circle cx="344.30" cy="227.33" r="1.05"/>
</g>
</svg></body></html>
